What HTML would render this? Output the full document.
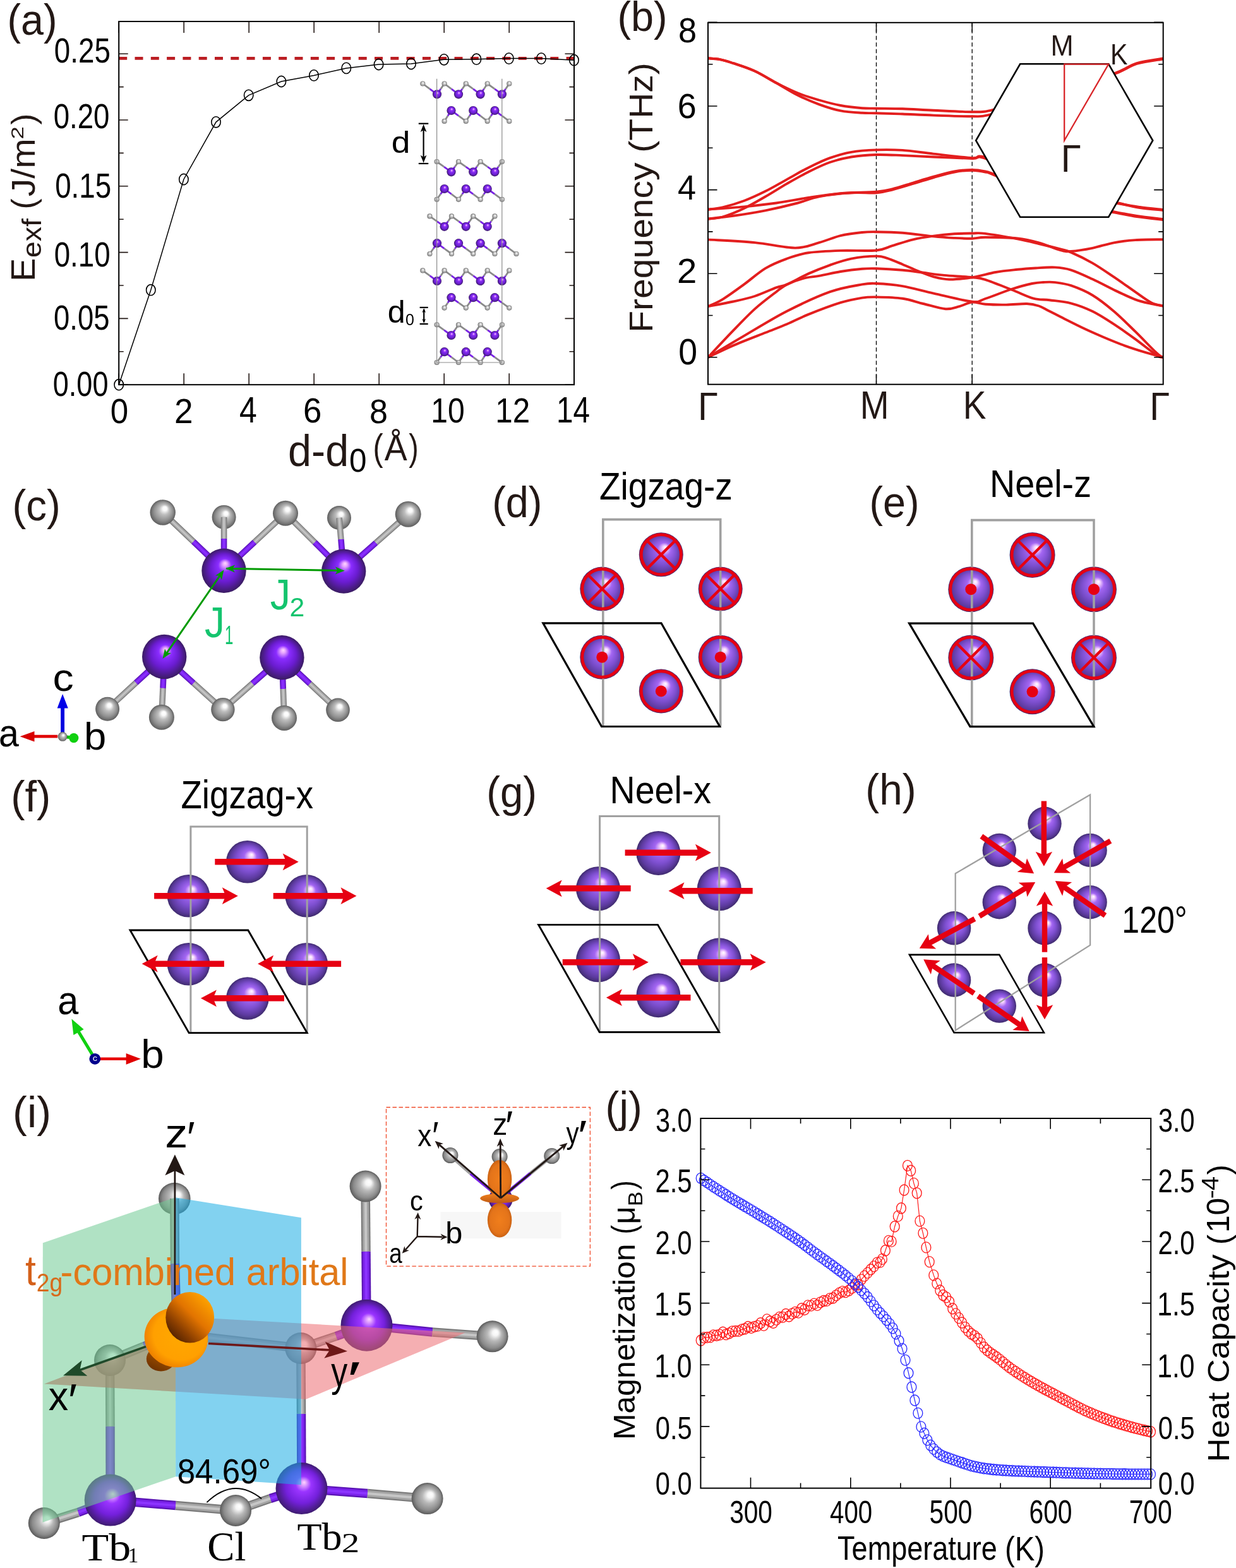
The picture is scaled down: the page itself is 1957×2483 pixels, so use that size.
<!DOCTYPE html>
<html><head><meta charset="utf-8"><title>Figure</title>
<style>html,body{margin:0;padding:0;background:#fff;}svg{display:block;}</style>
</head><body>
<svg xmlns="http://www.w3.org/2000/svg" width="1957" height="2483" viewBox="0 0 1957 2483">
<defs>
<radialGradient id="gTb" cx="0.5" cy="0.5" r="0.5" fx="0.56" fy="0.32">
  <stop offset="0" stop-color="#ffd8ff"/>
  <stop offset="0.12" stop-color="#d890ff"/>
  <stop offset="0.32" stop-color="#8a2cf6"/>
  <stop offset="0.7" stop-color="#6a1fd0"/>
  <stop offset="1" stop-color="#3c1c66"/>
</radialGradient>
<radialGradient id="gCl" cx="0.5" cy="0.5" r="0.5" fx="0.58" fy="0.33">
  <stop offset="0" stop-color="#ffffff"/>
  <stop offset="0.15" stop-color="#f4f4f4"/>
  <stop offset="0.45" stop-color="#c4c4c4"/>
  <stop offset="0.8" stop-color="#9a9a9a"/>
  <stop offset="1" stop-color="#6a6a6a"/>
</radialGradient>
<radialGradient id="gTb2" cx="0.5" cy="0.5" r="0.5" fx="0.62" fy="0.36">
  <stop offset="0" stop-color="#fff0ff"/>
  <stop offset="0.1" stop-color="#f0c8ff"/>
  <stop offset="0.3" stop-color="#a070f0"/>
  <stop offset="0.65" stop-color="#7848c8"/>
  <stop offset="1" stop-color="#3e2a6a"/>
</radialGradient>
<radialGradient id="gTbc" cx="0.5" cy="0.5" r="0.5" fx="0.53" fy="0.33">
  <stop offset="0" stop-color="#ffd6ff"/>
  <stop offset="0.1" stop-color="#e8a8ff"/>
  <stop offset="0.3" stop-color="#8a2cff"/>
  <stop offset="0.62" stop-color="#6a1cd0"/>
  <stop offset="1" stop-color="#3a1c62"/>
</radialGradient>
<radialGradient id="gClc" cx="0.5" cy="0.5" r="0.5" fx="0.6" fy="0.32">
  <stop offset="0" stop-color="#ffffff"/>
  <stop offset="0.16" stop-color="#fafafa"/>
  <stop offset="0.4" stop-color="#bdbdbd"/>
  <stop offset="0.75" stop-color="#8e8e8e"/>
  <stop offset="1" stop-color="#5e5e5e"/>
</radialGradient>
<radialGradient id="gTbs" cx="0.5" cy="0.5" r="0.5" fx="0.6" fy="0.33">
  <stop offset="0" stop-color="#ffffff"/>
  <stop offset="0.1" stop-color="#f4d0ff"/>
  <stop offset="0.3" stop-color="#a366f2"/>
  <stop offset="0.6" stop-color="#7d4fcf"/>
  <stop offset="0.85" stop-color="#5c3a9e"/>
  <stop offset="1" stop-color="#3f2b6e"/>
</radialGradient>
<radialGradient id="gTbi" cx="0.5" cy="0.5" r="0.5" fx="0.55" fy="0.38">
  <stop offset="0" stop-color="#ffd6ff"/>
  <stop offset="0.1" stop-color="#e0a0ff"/>
  <stop offset="0.3" stop-color="#9a34ff"/>
  <stop offset="0.65" stop-color="#7420dc"/>
  <stop offset="1" stop-color="#3e1c70"/>
</radialGradient>
<radialGradient id="gCli" cx="0.5" cy="0.5" r="0.5" fx="0.62" fy="0.36">
  <stop offset="0" stop-color="#ffffff"/>
  <stop offset="0.18" stop-color="#f6f6f6"/>
  <stop offset="0.45" stop-color="#b8b8b8"/>
  <stop offset="0.8" stop-color="#8a8a8a"/>
  <stop offset="1" stop-color="#5a5a5a"/>
</radialGradient>
<linearGradient id="gOrbT" x1="0.85" y1="0.1" x2="0.15" y2="0.85">
  <stop offset="0" stop-color="#ffa400"/>
  <stop offset="0.45" stop-color="#e27400"/>
  <stop offset="0.8" stop-color="#8a3e00"/>
  <stop offset="1" stop-color="#5a2600"/>
</linearGradient>
<radialGradient id="gOrbB" cx="0.55" cy="0.45" r="0.55">
  <stop offset="0" stop-color="#ffa800"/>
  <stop offset="0.75" stop-color="#ffa000"/>
  <stop offset="1" stop-color="#f08400"/>
</radialGradient>
<linearGradient id="gOrbD" x1="0.8" y1="0" x2="0.2" y2="1">
  <stop offset="0" stop-color="#c06000"/>
  <stop offset="1" stop-color="#6a3000"/>
</linearGradient>
<radialGradient id="gOrbI" cx="0.5" cy="0.5" r="0.55">
  <stop offset="0" stop-color="#f07e1c"/>
  <stop offset="0.7" stop-color="#e4741a"/>
  <stop offset="1" stop-color="#c05a10"/>
</radialGradient>
<linearGradient id="gOrbR" x1="0" y1="0" x2="0" y2="1">
  <stop offset="0" stop-color="#f08020"/>
  <stop offset="1" stop-color="#c05a12"/>
</linearGradient>
</defs>
<rect width="1957" height="2483" fill="#fff"/>
<g stroke-linecap="butt"><line x1="692.0" y1="149.3" x2="680.6" y2="140.9" stroke="#7a22e6" stroke-width="2.8"/><line x1="680.6" y1="140.9" x2="669.3" y2="132.5" stroke="#8a8a8a" stroke-width="2.8"/><line x1="692.0" y1="149.3" x2="697.8" y2="140.9" stroke="#7a22e6" stroke-width="2.8"/><line x1="697.8" y1="140.9" x2="703.6" y2="132.5" stroke="#8a8a8a" stroke-width="2.8"/><line x1="726.0" y1="149.3" x2="714.8" y2="140.9" stroke="#7a22e6" stroke-width="2.8"/><line x1="714.8" y1="140.9" x2="703.6" y2="132.5" stroke="#8a8a8a" stroke-width="2.8"/><line x1="726.0" y1="149.3" x2="731.9" y2="140.9" stroke="#7a22e6" stroke-width="2.8"/><line x1="731.9" y1="140.9" x2="737.7" y2="132.5" stroke="#8a8a8a" stroke-width="2.8"/><line x1="760.6" y1="149.3" x2="749.2" y2="140.9" stroke="#7a22e6" stroke-width="2.8"/><line x1="749.2" y1="140.9" x2="737.7" y2="132.5" stroke="#8a8a8a" stroke-width="2.8"/><line x1="760.6" y1="149.3" x2="766.2" y2="140.9" stroke="#7a22e6" stroke-width="2.8"/><line x1="766.2" y1="140.9" x2="771.7" y2="132.5" stroke="#8a8a8a" stroke-width="2.8"/><line x1="794.9" y1="149.3" x2="783.3" y2="140.9" stroke="#7a22e6" stroke-width="2.8"/><line x1="783.3" y1="140.9" x2="771.7" y2="132.5" stroke="#8a8a8a" stroke-width="2.8"/><line x1="794.9" y1="149.3" x2="800.6" y2="140.9" stroke="#7a22e6" stroke-width="2.8"/><line x1="800.6" y1="140.9" x2="806.3" y2="132.5" stroke="#8a8a8a" stroke-width="2.8"/><line x1="714.5" y1="175.0" x2="709.0" y2="183.4" stroke="#7a22e6" stroke-width="2.8"/><line x1="709.0" y1="183.4" x2="703.6" y2="191.9" stroke="#8a8a8a" stroke-width="2.8"/><line x1="714.5" y1="175.0" x2="726.1" y2="183.4" stroke="#7a22e6" stroke-width="2.8"/><line x1="726.1" y1="183.4" x2="737.7" y2="191.9" stroke="#8a8a8a" stroke-width="2.8"/><line x1="749.2" y1="175.0" x2="743.5" y2="183.4" stroke="#7a22e6" stroke-width="2.8"/><line x1="743.5" y1="183.4" x2="737.7" y2="191.9" stroke="#8a8a8a" stroke-width="2.8"/><line x1="749.2" y1="175.0" x2="760.5" y2="183.4" stroke="#7a22e6" stroke-width="2.8"/><line x1="760.5" y1="183.4" x2="771.7" y2="191.9" stroke="#8a8a8a" stroke-width="2.8"/><line x1="783.4" y1="175.0" x2="777.5" y2="183.4" stroke="#7a22e6" stroke-width="2.8"/><line x1="777.5" y1="183.4" x2="771.7" y2="191.9" stroke="#8a8a8a" stroke-width="2.8"/><line x1="783.4" y1="175.0" x2="794.8" y2="183.4" stroke="#7a22e6" stroke-width="2.8"/><line x1="794.8" y1="183.4" x2="806.3" y2="191.9" stroke="#8a8a8a" stroke-width="2.8"/><line x1="714.5" y1="272.3" x2="703.0" y2="264.1" stroke="#7a22e6" stroke-width="2.8"/><line x1="703.0" y1="264.1" x2="691.6" y2="256.0" stroke="#8a8a8a" stroke-width="2.8"/><line x1="714.5" y1="272.3" x2="720.2" y2="264.1" stroke="#7a22e6" stroke-width="2.8"/><line x1="720.2" y1="264.1" x2="726.0" y2="256.0" stroke="#8a8a8a" stroke-width="2.8"/><line x1="749.2" y1="272.3" x2="737.6" y2="264.1" stroke="#7a22e6" stroke-width="2.8"/><line x1="737.6" y1="264.1" x2="726.0" y2="256.0" stroke="#8a8a8a" stroke-width="2.8"/><line x1="749.2" y1="272.3" x2="754.9" y2="264.1" stroke="#7a22e6" stroke-width="2.8"/><line x1="754.9" y1="264.1" x2="760.6" y2="256.0" stroke="#8a8a8a" stroke-width="2.8"/><line x1="783.4" y1="272.3" x2="772.0" y2="264.1" stroke="#7a22e6" stroke-width="2.8"/><line x1="772.0" y1="264.1" x2="760.6" y2="256.0" stroke="#8a8a8a" stroke-width="2.8"/><line x1="783.4" y1="272.3" x2="789.1" y2="264.1" stroke="#7a22e6" stroke-width="2.8"/><line x1="789.1" y1="264.1" x2="794.9" y2="256.0" stroke="#8a8a8a" stroke-width="2.8"/><line x1="703.6" y1="299.0" x2="697.6" y2="307.4" stroke="#7a22e6" stroke-width="2.8"/><line x1="697.6" y1="307.4" x2="691.6" y2="315.8" stroke="#8a8a8a" stroke-width="2.8"/><line x1="703.6" y1="299.0" x2="714.8" y2="307.4" stroke="#7a22e6" stroke-width="2.8"/><line x1="714.8" y1="307.4" x2="726.0" y2="315.8" stroke="#8a8a8a" stroke-width="2.8"/><line x1="737.7" y1="299.0" x2="731.9" y2="307.4" stroke="#7a22e6" stroke-width="2.8"/><line x1="731.9" y1="307.4" x2="726.0" y2="315.8" stroke="#8a8a8a" stroke-width="2.8"/><line x1="737.7" y1="299.0" x2="749.2" y2="307.4" stroke="#7a22e6" stroke-width="2.8"/><line x1="749.2" y1="307.4" x2="760.6" y2="315.8" stroke="#8a8a8a" stroke-width="2.8"/><line x1="771.7" y1="299.0" x2="766.2" y2="307.4" stroke="#7a22e6" stroke-width="2.8"/><line x1="766.2" y1="307.4" x2="760.6" y2="315.8" stroke="#8a8a8a" stroke-width="2.8"/><line x1="771.7" y1="299.0" x2="783.3" y2="307.4" stroke="#7a22e6" stroke-width="2.8"/><line x1="783.3" y1="307.4" x2="794.9" y2="315.8" stroke="#8a8a8a" stroke-width="2.8"/><line x1="703.6" y1="358.8" x2="692.0" y2="350.6" stroke="#7a22e6" stroke-width="2.8"/><line x1="692.0" y1="350.6" x2="680.4" y2="342.4" stroke="#8a8a8a" stroke-width="2.8"/><line x1="703.6" y1="358.8" x2="709.3" y2="350.6" stroke="#7a22e6" stroke-width="2.8"/><line x1="709.3" y1="350.6" x2="715.0" y2="342.4" stroke="#8a8a8a" stroke-width="2.8"/><line x1="737.7" y1="358.8" x2="726.4" y2="350.6" stroke="#7a22e6" stroke-width="2.8"/><line x1="726.4" y1="350.6" x2="715.0" y2="342.4" stroke="#8a8a8a" stroke-width="2.8"/><line x1="737.7" y1="358.8" x2="743.5" y2="350.6" stroke="#7a22e6" stroke-width="2.8"/><line x1="743.5" y1="350.6" x2="749.2" y2="342.4" stroke="#8a8a8a" stroke-width="2.8"/><line x1="771.7" y1="358.8" x2="760.5" y2="350.6" stroke="#7a22e6" stroke-width="2.8"/><line x1="760.5" y1="350.6" x2="749.2" y2="342.4" stroke="#8a8a8a" stroke-width="2.8"/><line x1="771.7" y1="358.8" x2="777.5" y2="350.6" stroke="#7a22e6" stroke-width="2.8"/><line x1="777.5" y1="350.6" x2="783.4" y2="342.4" stroke="#8a8a8a" stroke-width="2.8"/><line x1="692.0" y1="385.2" x2="686.2" y2="393.6" stroke="#7a22e6" stroke-width="2.8"/><line x1="686.2" y1="393.6" x2="680.4" y2="402.0" stroke="#8a8a8a" stroke-width="2.8"/><line x1="692.0" y1="385.2" x2="703.5" y2="393.6" stroke="#7a22e6" stroke-width="2.8"/><line x1="703.5" y1="393.6" x2="715.0" y2="402.0" stroke="#8a8a8a" stroke-width="2.8"/><line x1="726.0" y1="385.2" x2="720.5" y2="393.6" stroke="#7a22e6" stroke-width="2.8"/><line x1="720.5" y1="393.6" x2="715.0" y2="402.0" stroke="#8a8a8a" stroke-width="2.8"/><line x1="726.0" y1="385.2" x2="737.6" y2="393.6" stroke="#7a22e6" stroke-width="2.8"/><line x1="737.6" y1="393.6" x2="749.2" y2="402.0" stroke="#8a8a8a" stroke-width="2.8"/><line x1="760.6" y1="385.2" x2="754.9" y2="393.6" stroke="#7a22e6" stroke-width="2.8"/><line x1="754.9" y1="393.6" x2="749.2" y2="402.0" stroke="#8a8a8a" stroke-width="2.8"/><line x1="760.6" y1="385.2" x2="772.0" y2="393.6" stroke="#7a22e6" stroke-width="2.8"/><line x1="772.0" y1="393.6" x2="783.4" y2="402.0" stroke="#8a8a8a" stroke-width="2.8"/><line x1="794.9" y1="385.2" x2="789.1" y2="393.6" stroke="#7a22e6" stroke-width="2.8"/><line x1="789.1" y1="393.6" x2="783.4" y2="402.0" stroke="#8a8a8a" stroke-width="2.8"/><line x1="794.9" y1="385.2" x2="806.2" y2="393.6" stroke="#7a22e6" stroke-width="2.8"/><line x1="806.2" y1="393.6" x2="817.5" y2="402.0" stroke="#8a8a8a" stroke-width="2.8"/><line x1="692.0" y1="445.0" x2="680.6" y2="436.7" stroke="#7a22e6" stroke-width="2.8"/><line x1="680.6" y1="436.7" x2="669.3" y2="428.4" stroke="#8a8a8a" stroke-width="2.8"/><line x1="692.0" y1="445.0" x2="697.8" y2="436.7" stroke="#7a22e6" stroke-width="2.8"/><line x1="697.8" y1="436.7" x2="703.6" y2="428.4" stroke="#8a8a8a" stroke-width="2.8"/><line x1="726.0" y1="445.0" x2="714.8" y2="436.7" stroke="#7a22e6" stroke-width="2.8"/><line x1="714.8" y1="436.7" x2="703.6" y2="428.4" stroke="#8a8a8a" stroke-width="2.8"/><line x1="726.0" y1="445.0" x2="731.9" y2="436.7" stroke="#7a22e6" stroke-width="2.8"/><line x1="731.9" y1="436.7" x2="737.7" y2="428.4" stroke="#8a8a8a" stroke-width="2.8"/><line x1="760.6" y1="445.0" x2="749.2" y2="436.7" stroke="#7a22e6" stroke-width="2.8"/><line x1="749.2" y1="436.7" x2="737.7" y2="428.4" stroke="#8a8a8a" stroke-width="2.8"/><line x1="760.6" y1="445.0" x2="766.2" y2="436.7" stroke="#7a22e6" stroke-width="2.8"/><line x1="766.2" y1="436.7" x2="771.7" y2="428.4" stroke="#8a8a8a" stroke-width="2.8"/><line x1="794.9" y1="445.0" x2="783.3" y2="436.7" stroke="#7a22e6" stroke-width="2.8"/><line x1="783.3" y1="436.7" x2="771.7" y2="428.4" stroke="#8a8a8a" stroke-width="2.8"/><line x1="794.9" y1="445.0" x2="800.6" y2="436.7" stroke="#7a22e6" stroke-width="2.8"/><line x1="800.6" y1="436.7" x2="806.3" y2="428.4" stroke="#8a8a8a" stroke-width="2.8"/><line x1="714.5" y1="471.2" x2="709.0" y2="479.4" stroke="#7a22e6" stroke-width="2.8"/><line x1="709.0" y1="479.4" x2="703.6" y2="487.6" stroke="#8a8a8a" stroke-width="2.8"/><line x1="714.5" y1="471.2" x2="726.1" y2="479.4" stroke="#7a22e6" stroke-width="2.8"/><line x1="726.1" y1="479.4" x2="737.7" y2="487.6" stroke="#8a8a8a" stroke-width="2.8"/><line x1="749.2" y1="471.2" x2="743.5" y2="479.4" stroke="#7a22e6" stroke-width="2.8"/><line x1="743.5" y1="479.4" x2="737.7" y2="487.6" stroke="#8a8a8a" stroke-width="2.8"/><line x1="749.2" y1="471.2" x2="760.5" y2="479.4" stroke="#7a22e6" stroke-width="2.8"/><line x1="760.5" y1="479.4" x2="771.7" y2="487.6" stroke="#8a8a8a" stroke-width="2.8"/><line x1="783.4" y1="471.2" x2="777.5" y2="479.4" stroke="#7a22e6" stroke-width="2.8"/><line x1="777.5" y1="479.4" x2="771.7" y2="487.6" stroke="#8a8a8a" stroke-width="2.8"/><line x1="783.4" y1="471.2" x2="794.8" y2="479.4" stroke="#7a22e6" stroke-width="2.8"/><line x1="794.8" y1="479.4" x2="806.3" y2="487.6" stroke="#8a8a8a" stroke-width="2.8"/><line x1="714.5" y1="531.0" x2="703.0" y2="522.6" stroke="#7a22e6" stroke-width="2.8"/><line x1="703.0" y1="522.6" x2="691.6" y2="514.3" stroke="#8a8a8a" stroke-width="2.8"/><line x1="714.5" y1="531.0" x2="720.2" y2="522.6" stroke="#7a22e6" stroke-width="2.8"/><line x1="720.2" y1="522.6" x2="726.0" y2="514.3" stroke="#8a8a8a" stroke-width="2.8"/><line x1="749.2" y1="531.0" x2="737.6" y2="522.6" stroke="#7a22e6" stroke-width="2.8"/><line x1="737.6" y1="522.6" x2="726.0" y2="514.3" stroke="#8a8a8a" stroke-width="2.8"/><line x1="749.2" y1="531.0" x2="754.9" y2="522.6" stroke="#7a22e6" stroke-width="2.8"/><line x1="754.9" y1="522.6" x2="760.6" y2="514.3" stroke="#8a8a8a" stroke-width="2.8"/><line x1="783.4" y1="531.0" x2="772.0" y2="522.6" stroke="#7a22e6" stroke-width="2.8"/><line x1="772.0" y1="522.6" x2="760.6" y2="514.3" stroke="#8a8a8a" stroke-width="2.8"/><line x1="783.4" y1="531.0" x2="789.1" y2="522.6" stroke="#7a22e6" stroke-width="2.8"/><line x1="789.1" y1="522.6" x2="794.9" y2="514.3" stroke="#8a8a8a" stroke-width="2.8"/><line x1="703.6" y1="557.2" x2="697.6" y2="565.6" stroke="#7a22e6" stroke-width="2.8"/><line x1="697.6" y1="565.6" x2="691.6" y2="574.0" stroke="#8a8a8a" stroke-width="2.8"/><line x1="703.6" y1="557.2" x2="714.8" y2="565.6" stroke="#7a22e6" stroke-width="2.8"/><line x1="714.8" y1="565.6" x2="726.0" y2="574.0" stroke="#8a8a8a" stroke-width="2.8"/><line x1="737.7" y1="557.2" x2="731.9" y2="565.6" stroke="#7a22e6" stroke-width="2.8"/><line x1="731.9" y1="565.6" x2="726.0" y2="574.0" stroke="#8a8a8a" stroke-width="2.8"/><line x1="737.7" y1="557.2" x2="749.2" y2="565.6" stroke="#7a22e6" stroke-width="2.8"/><line x1="749.2" y1="565.6" x2="760.6" y2="574.0" stroke="#8a8a8a" stroke-width="2.8"/><line x1="771.7" y1="557.2" x2="766.2" y2="565.6" stroke="#7a22e6" stroke-width="2.8"/><line x1="766.2" y1="565.6" x2="760.6" y2="574.0" stroke="#8a8a8a" stroke-width="2.8"/><line x1="771.7" y1="557.2" x2="783.3" y2="565.6" stroke="#7a22e6" stroke-width="2.8"/><line x1="783.3" y1="565.6" x2="794.9" y2="574.0" stroke="#8a8a8a" stroke-width="2.8"/></g>
<circle cx="669.3" cy="132.5" r="4.1" fill="url(#gCl)"/><circle cx="703.6" cy="132.5" r="4.1" fill="url(#gCl)"/><circle cx="737.7" cy="132.5" r="4.1" fill="url(#gCl)"/><circle cx="771.7" cy="132.5" r="4.1" fill="url(#gCl)"/><circle cx="806.3" cy="132.5" r="4.1" fill="url(#gCl)"/><circle cx="692.0" cy="149.3" r="7.1" fill="url(#gTb)"/><circle cx="726.0" cy="149.3" r="7.1" fill="url(#gTb)"/><circle cx="760.6" cy="149.3" r="7.1" fill="url(#gTb)"/><circle cx="794.9" cy="149.3" r="7.1" fill="url(#gTb)"/><circle cx="703.6" cy="191.9" r="4.1" fill="url(#gCl)"/><circle cx="737.7" cy="191.9" r="4.1" fill="url(#gCl)"/><circle cx="771.7" cy="191.9" r="4.1" fill="url(#gCl)"/><circle cx="806.3" cy="191.9" r="4.1" fill="url(#gCl)"/><circle cx="714.5" cy="175.0" r="7.1" fill="url(#gTb)"/><circle cx="749.2" cy="175.0" r="7.1" fill="url(#gTb)"/><circle cx="783.4" cy="175.0" r="7.1" fill="url(#gTb)"/><circle cx="691.6" cy="256.0" r="4.1" fill="url(#gCl)"/><circle cx="726.0" cy="256.0" r="4.1" fill="url(#gCl)"/><circle cx="760.6" cy="256.0" r="4.1" fill="url(#gCl)"/><circle cx="794.9" cy="256.0" r="4.1" fill="url(#gCl)"/><circle cx="714.5" cy="272.3" r="7.1" fill="url(#gTb)"/><circle cx="749.2" cy="272.3" r="7.1" fill="url(#gTb)"/><circle cx="783.4" cy="272.3" r="7.1" fill="url(#gTb)"/><circle cx="691.6" cy="315.8" r="4.1" fill="url(#gCl)"/><circle cx="726.0" cy="315.8" r="4.1" fill="url(#gCl)"/><circle cx="760.6" cy="315.8" r="4.1" fill="url(#gCl)"/><circle cx="794.9" cy="315.8" r="4.1" fill="url(#gCl)"/><circle cx="703.6" cy="299.0" r="7.1" fill="url(#gTb)"/><circle cx="737.7" cy="299.0" r="7.1" fill="url(#gTb)"/><circle cx="771.7" cy="299.0" r="7.1" fill="url(#gTb)"/><circle cx="680.4" cy="342.4" r="4.1" fill="url(#gCl)"/><circle cx="715.0" cy="342.4" r="4.1" fill="url(#gCl)"/><circle cx="749.2" cy="342.4" r="4.1" fill="url(#gCl)"/><circle cx="783.4" cy="342.4" r="4.1" fill="url(#gCl)"/><circle cx="703.6" cy="358.8" r="7.1" fill="url(#gTb)"/><circle cx="737.7" cy="358.8" r="7.1" fill="url(#gTb)"/><circle cx="771.7" cy="358.8" r="7.1" fill="url(#gTb)"/><circle cx="680.4" cy="402.0" r="4.1" fill="url(#gCl)"/><circle cx="715.0" cy="402.0" r="4.1" fill="url(#gCl)"/><circle cx="749.2" cy="402.0" r="4.1" fill="url(#gCl)"/><circle cx="783.4" cy="402.0" r="4.1" fill="url(#gCl)"/><circle cx="817.5" cy="402.0" r="4.1" fill="url(#gCl)"/><circle cx="692.0" cy="385.2" r="7.1" fill="url(#gTb)"/><circle cx="726.0" cy="385.2" r="7.1" fill="url(#gTb)"/><circle cx="760.6" cy="385.2" r="7.1" fill="url(#gTb)"/><circle cx="794.9" cy="385.2" r="7.1" fill="url(#gTb)"/><circle cx="669.3" cy="428.4" r="4.1" fill="url(#gCl)"/><circle cx="703.6" cy="428.4" r="4.1" fill="url(#gCl)"/><circle cx="737.7" cy="428.4" r="4.1" fill="url(#gCl)"/><circle cx="771.7" cy="428.4" r="4.1" fill="url(#gCl)"/><circle cx="806.3" cy="428.4" r="4.1" fill="url(#gCl)"/><circle cx="692.0" cy="445.0" r="7.1" fill="url(#gTb)"/><circle cx="726.0" cy="445.0" r="7.1" fill="url(#gTb)"/><circle cx="760.6" cy="445.0" r="7.1" fill="url(#gTb)"/><circle cx="794.9" cy="445.0" r="7.1" fill="url(#gTb)"/><circle cx="703.6" cy="487.6" r="4.1" fill="url(#gCl)"/><circle cx="737.7" cy="487.6" r="4.1" fill="url(#gCl)"/><circle cx="771.7" cy="487.6" r="4.1" fill="url(#gCl)"/><circle cx="806.3" cy="487.6" r="4.1" fill="url(#gCl)"/><circle cx="714.5" cy="471.2" r="7.1" fill="url(#gTb)"/><circle cx="749.2" cy="471.2" r="7.1" fill="url(#gTb)"/><circle cx="783.4" cy="471.2" r="7.1" fill="url(#gTb)"/><circle cx="691.6" cy="514.3" r="4.1" fill="url(#gCl)"/><circle cx="726.0" cy="514.3" r="4.1" fill="url(#gCl)"/><circle cx="760.6" cy="514.3" r="4.1" fill="url(#gCl)"/><circle cx="794.9" cy="514.3" r="4.1" fill="url(#gCl)"/><circle cx="714.5" cy="531.0" r="7.1" fill="url(#gTb)"/><circle cx="749.2" cy="531.0" r="7.1" fill="url(#gTb)"/><circle cx="783.4" cy="531.0" r="7.1" fill="url(#gTb)"/><circle cx="691.6" cy="574.0" r="4.1" fill="url(#gCl)"/><circle cx="726.0" cy="574.0" r="4.1" fill="url(#gCl)"/><circle cx="760.6" cy="574.0" r="4.1" fill="url(#gCl)"/><circle cx="794.9" cy="574.0" r="4.1" fill="url(#gCl)"/><circle cx="703.6" cy="557.2" r="7.1" fill="url(#gTb)"/><circle cx="737.7" cy="557.2" r="7.1" fill="url(#gTb)"/><circle cx="771.7" cy="557.2" r="7.1" fill="url(#gTb)"/>
<g stroke="#8c8c8c" stroke-width="1.2" fill="none"><line x1="691.6" y1="124.8" x2="691.6" y2="574"/><line x1="794.8" y1="124.8" x2="794.8" y2="574"/><line x1="691.6" y1="574" x2="794.8" y2="574"/></g>
<g stroke="#000" stroke-width="2.2" fill="none"><line x1="662.8" y1="195.7" x2="678.3" y2="195.7"/><line x1="662.8" y1="259" x2="678.3" y2="259"/><line x1="670.6" y1="200" x2="670.6" y2="254"/><line x1="664.6" y1="486.9" x2="677.7" y2="486.9"/><line x1="664.6" y1="513" x2="677.7" y2="513"/><line x1="671.2" y1="490" x2="671.2" y2="510"/></g>
<g fill="#000"><path d="M670.6,196.8 L665.8,209 L670.6,206 L675.4,209 Z"/><path d="M670.6,257.9 L665.8,245.7 L670.6,248.7 L675.4,245.7 Z"/><path d="M671.2,488 L668.4,495 L671.2,493.5 L674,495 Z"/><path d="M671.2,511.9 L668.4,504.9 L671.2,506.4 L674,504.9 Z"/></g>
<text transform="translate(619.73,241.51) scale(1.0889,1)" font-family='"Liberation Sans", Arial, sans-serif' font-size="48.98" fill="#000">d</text>
<text transform="translate(613.87,510.80) scale(1.0086,1)" font-family='"Liberation Sans", Arial, sans-serif' font-size="49.80" fill="#000">d</text>
<text transform="translate(641.90,514.55) scale(0.9906,1)" font-family='"Liberation Sans", Arial, sans-serif' font-size="25.16" fill="#000">0</text>
<line x1="188.2" y1="92.4" x2="909.0" y2="92.4" stroke="#bb1d22" stroke-width="4.6" stroke-dasharray="13 12.3"/>
<polyline fill="none" stroke="#000" stroke-width="1.5" points="188.2,609.2 238.8,459.2 290.9,284.0 342.0,193.3 393.7,150.8 445.4,129.0 497.0,119.4 548.3,107.9 599.6,102.0 651.0,101.0 703.0,94.3 754.4,93.7 805.8,92.6 857.0,92.6 908.9,95.2"/>
<g fill="none" stroke="#000" stroke-width="1.6"><ellipse cx="188.2" cy="609.2" rx="7.2" ry="8.6"/><ellipse cx="238.8" cy="459.2" rx="7.2" ry="8.6"/><ellipse cx="290.9" cy="284.0" rx="7.2" ry="8.6"/><ellipse cx="342.0" cy="193.3" rx="7.2" ry="8.6"/><ellipse cx="393.7" cy="150.8" rx="7.2" ry="8.6"/><ellipse cx="445.4" cy="129.0" rx="7.2" ry="8.6"/><ellipse cx="497.0" cy="119.4" rx="7.2" ry="8.6"/><ellipse cx="548.3" cy="107.9" rx="7.2" ry="8.6"/><ellipse cx="599.6" cy="102.0" rx="7.2" ry="8.6"/><ellipse cx="651.0" cy="101.0" rx="7.2" ry="8.6"/><ellipse cx="703.0" cy="94.3" rx="7.2" ry="8.6"/><ellipse cx="754.4" cy="93.7" rx="7.2" ry="8.6"/><ellipse cx="805.8" cy="92.6" rx="7.2" ry="8.6"/><ellipse cx="857.0" cy="92.6" rx="7.2" ry="8.6"/><ellipse cx="908.9" cy="95.2" rx="7.2" ry="8.6"/></g>
<path d="M188.2,609.2v-18M188.2,34.0v18M291.2,609.2v-18M291.2,34.0v18M394.2,609.2v-18M394.2,34.0v18M497.2,609.2v-18M497.2,34.0v18M600.2,609.2v-18M600.2,34.0v18M703.2,609.2v-18M703.2,34.0v18M806.2,609.2v-18M806.2,34.0v18M909.2,609.2v-18M909.2,34.0v18M188.2,609.2h14.5M909.0,609.2h-14.5M188.2,556.8h7.5M909.0,556.8h-7.5M188.2,504.4h14.5M909.0,504.4h-14.5M188.2,452.0h7.5M909.0,452.0h-7.5M188.2,399.6h14.5M909.0,399.6h-14.5M188.2,347.2h7.5M909.0,347.2h-7.5M188.2,294.8h14.5M909.0,294.8h-14.5M188.2,242.4h7.5M909.0,242.4h-7.5M188.2,190.0h14.5M909.0,190.0h-14.5M188.2,137.6h7.5M909.0,137.6h-7.5M188.2,85.2h14.5M909.0,85.2h-14.5" stroke="#231815" stroke-width="1.6" fill="none"/>
<rect x="188.2" y="34.0" width="720.8" height="575.2" fill="none" stroke="#000" stroke-width="2"/>
<text transform="translate(85.87,99.14) scale(0.8213,1)" font-family='"Liberation Sans", Arial, sans-serif' font-size="55.69" fill="#000">0.25</text>
<text transform="translate(84.68,203.14) scale(0.8192,1)" font-family='"Liberation Sans", Arial, sans-serif' font-size="55.69" fill="#000">0.20</text>
<text transform="translate(87.17,312.94) scale(0.8213,1)" font-family='"Liberation Sans", Arial, sans-serif' font-size="55.69" fill="#000">0.15</text>
<text transform="translate(85.67,421.75) scale(0.8244,1)" font-family='"Liberation Sans", Arial, sans-serif' font-size="55.41" fill="#000">0.10</text>
<text transform="translate(85.08,522.05) scale(0.8197,1)" font-family='"Liberation Sans", Arial, sans-serif' font-size="55.41" fill="#000">0.05</text>
<text transform="translate(83.80,627.35) scale(0.8128,1)" font-family='"Liberation Sans", Arial, sans-serif' font-size="55.41" fill="#000">0.00</text>
<text transform="translate(174.66,670.14) scale(0.9130,1)" font-family='"Liberation Sans", Arial, sans-serif' font-size="55.97" fill="#000">0</text>
<text transform="translate(275.94,670.10) scale(0.9512,1)" font-family='"Liberation Sans", Arial, sans-serif' font-size="55.91" fill="#000">2</text>
<text transform="translate(379.08,668.90) scale(0.8819,1)" font-family='"Liberation Sans", Arial, sans-serif' font-size="56.58" fill="#000">4</text>
<text transform="translate(479.96,668.84) scale(0.9473,1)" font-family='"Liberation Sans", Arial, sans-serif' font-size="55.69" fill="#000">6</text>
<text transform="translate(584.98,670.16) scale(0.9680,1)" font-family='"Liberation Sans", Arial, sans-serif' font-size="53.85" fill="#000">8</text>
<text transform="translate(682.30,668.55) scale(0.8756,1)" font-family='"Liberation Sans", Arial, sans-serif' font-size="54.84" fill="#000">10</text>
<text transform="translate(784.30,669.10) scale(0.8870,1)" font-family='"Liberation Sans", Arial, sans-serif' font-size="55.63" fill="#000">12</text>
<text transform="translate(881.03,669.10) scale(0.8424,1)" font-family='"Liberation Sans", Arial, sans-serif' font-size="56.44" fill="#000">14</text>
<text transform="translate(11.45,55.04) scale(0.9550,1)" font-family='"Liberation Sans", Arial, sans-serif' font-size="67.77" fill="#231815">(a)</text>
<g transform="translate(55,441.2) rotate(-90)"><text transform="translate(-4.59,0.00) scale(1.0428,1)" font-family='"Liberation Sans", Arial, sans-serif' font-size="53.38" fill="#231815">E</text><text transform="translate(33.22,10.18) scale(1.1167,1)" font-family='"Liberation Sans", Arial, sans-serif' font-size="41.64" fill="#231815">exf</text><text transform="translate(110.06,0.15) scale(0.9690,1)" font-family='"Liberation Sans", Arial, sans-serif' font-size="51.80" fill="#231815">(</text><text transform="translate(130.04,0.08) scale(1.1036,1)" font-family='"Liberation Sans", Arial, sans-serif' font-size="51.70" fill="#231815">J/m</text><text transform="translate(220.78,-18.10) scale(1.3185,1)" font-family='"Liberation Sans", Arial, sans-serif' font-size="27.67" fill="#231815">2</text><text transform="translate(243.80,0.15) scale(1.0272,1)" font-family='"Liberation Sans", Arial, sans-serif' font-size="51.80" fill="#231815">)</text></g>
<text transform="translate(455.97,737.99) scale(0.9355,1)" font-family='"Liberation Sans", Arial, sans-serif' font-size="71.16" fill="#231815">d-d</text>
<text transform="translate(553.02,746.89) scale(0.9606,1)" font-family='"Liberation Sans", Arial, sans-serif' font-size="51.45" fill="#000">0</text>
<text transform="translate(590.38,729.05) scale(0.8116,1)" font-family='"Liberation Sans", Arial, sans-serif' font-size="59.52" fill="#231815">(</text>
<text transform="translate(608.77,728.60) scale(0.9545,1)" font-family='"Liberation Sans", Arial, sans-serif' font-size="56.46" fill="#231815">Å</text>
<text transform="translate(647.35,729.05) scale(0.7799,1)" font-family='"Liberation Sans", Arial, sans-serif' font-size="59.52" fill="#231815">)</text>
<clipPath id="clipb"><rect x="1121.0" y="35.8" width="720.7" height="572.9000000000001"/></clipPath>
<g stroke="#000" stroke-width="1.3"><line x1="1387.5" y1="35.8" x2="1387.5" y2="608.7" stroke-dasharray="6.4 4.1"/><line x1="1539.2" y1="35.8" x2="1539.2" y2="608.7" stroke-dasharray="6.4 4.1"/></g>
<path d="M1387.5,35.8v15M1539.2,35.8v15M1387.5,608.7v-16M1539.2,608.7v-16" stroke="#000" stroke-width="1.5"/>
<g clip-path="url(#clipb)" fill="none" stroke="#e31e1e" stroke-width="3.9" stroke-linejoin="round" stroke-linecap="round">
<path d="M1121.0,92.3 C1124.3,92.6 1134.3,93.0 1141.0,94.3 C1147.7,95.6 1152.0,97.2 1161.0,100.2 C1170.0,103.2 1183.7,107.4 1195.0,112.6 C1206.3,117.8 1217.7,125.5 1229.0,131.3 C1240.3,137.1 1251.7,142.9 1263.0,147.4 C1274.3,151.9 1285.7,155.2 1297.0,158.5 C1308.3,161.8 1319.7,164.9 1331.0,167.0 C1342.3,169.1 1355.6,170.4 1365.0,171.2 C1374.4,172.0 1376.9,171.5 1387.6,171.7 C1398.3,171.9 1413.9,171.8 1429.0,172.3 C1444.1,172.8 1459.6,174.0 1478.0,174.8 C1496.4,175.6 1524.2,177.2 1539.3,177.2 C1554.4,177.2 1555.0,177.7 1568.5,174.8 C1582.0,171.9 1598.1,166.6 1620.0,160.0 C1641.9,153.4 1675.8,142.3 1700.0,135.0 C1724.2,127.7 1748.2,121.8 1764.9,116.0 C1781.6,110.2 1787.2,103.9 1800.0,100.0 C1812.8,96.1 1834.8,93.8 1841.7,92.5"/>
<path d="M1121.0,92.3 C1124.3,92.6 1134.3,93.0 1141.0,94.3 C1147.7,95.6 1152.0,97.2 1161.0,100.2 C1170.0,103.2 1183.7,107.4 1195.0,112.6 C1206.3,117.8 1217.7,124.9 1229.0,131.3 C1240.3,137.7 1251.7,145.1 1263.0,150.8 C1274.3,156.5 1285.7,161.2 1297.0,165.3 C1308.3,169.4 1319.7,173.2 1331.0,175.4 C1342.3,177.7 1355.6,178.2 1365.0,178.8 C1374.4,179.4 1376.9,178.9 1387.6,179.2 C1398.3,179.5 1413.9,179.9 1429.0,180.5 C1444.1,181.1 1459.6,182.0 1478.0,182.6 C1496.4,183.2 1524.8,184.4 1539.3,184.3 C1553.8,184.2 1551.5,185.3 1565.0,182.1 C1578.5,178.9 1597.5,172.5 1620.0,165.0 C1642.5,157.5 1675.8,145.0 1700.0,137.0 C1724.2,129.0 1748.2,123.0 1764.9,117.0 C1781.6,111.0 1787.2,104.9 1800.0,101.0 C1812.8,97.1 1834.8,94.8 1841.7,93.5"/>
<path d="M1121.0,331.6 C1124.8,331.1 1134.5,330.6 1144.0,328.3 C1153.5,326.0 1166.7,322.2 1178.0,318.0 C1189.3,313.8 1200.7,308.4 1212.0,302.8 C1223.3,297.2 1234.7,290.3 1246.0,284.1 C1257.3,277.9 1268.7,271.0 1280.0,265.4 C1291.3,259.8 1302.7,254.3 1314.0,250.2 C1325.3,246.1 1335.7,242.9 1348.0,240.8 C1360.3,238.7 1374.1,237.9 1387.6,237.4 C1401.1,236.9 1413.9,236.9 1429.0,237.9 C1444.1,238.9 1459.6,241.6 1478.0,243.6 C1496.4,245.6 1525.8,249.4 1539.3,250.2 C1552.8,251.0 1541.9,245.2 1558.7,248.5 C1575.5,251.8 1613.1,260.6 1640.0,270.0 C1666.9,279.4 1698.5,296.5 1720.0,305.0 C1741.5,313.5 1754.8,317.2 1769.0,321.0 C1783.2,324.8 1792.9,326.2 1805.0,328.0 C1817.1,329.8 1835.6,331.3 1841.7,332.0"/>
<path d="M1121.0,346.6 C1124.8,346.1 1134.5,346.3 1144.0,343.5 C1153.5,340.7 1166.7,335.4 1178.0,330.0 C1189.3,324.6 1200.7,317.8 1212.0,311.3 C1223.3,304.8 1234.7,297.4 1246.0,290.9 C1257.3,284.4 1268.7,277.8 1280.0,272.2 C1291.3,266.6 1302.7,260.9 1314.0,257.0 C1325.3,253.1 1335.7,250.5 1348.0,248.5 C1360.3,246.5 1374.1,245.4 1387.6,245.0 C1401.1,244.6 1413.9,245.5 1429.0,246.1 C1444.1,246.7 1459.6,247.7 1478.0,248.5 C1496.4,249.3 1525.6,250.6 1539.3,251.0 C1553.0,251.4 1543.2,245.3 1560.0,251.0 C1576.8,256.7 1613.3,272.7 1640.0,285.0 C1666.7,297.3 1699.7,316.7 1720.0,325.0 C1740.3,333.3 1748.7,332.0 1762.0,334.8 C1775.3,337.6 1786.7,339.9 1800.0,342.0 C1813.3,344.1 1834.8,346.3 1841.7,347.2"/>
<path d="M1121.0,331.6 C1130.5,330.9 1160.0,329.1 1178.0,327.4 C1196.0,325.7 1212.0,323.9 1229.0,321.5 C1246.0,319.1 1263.0,315.6 1280.0,313.0 C1297.0,310.4 1313.1,307.8 1331.0,306.2 C1348.9,304.6 1374.0,304.8 1387.6,303.6 C1401.2,302.5 1403.1,301.7 1412.8,299.3 C1422.5,296.9 1434.7,292.8 1445.6,289.5 C1456.5,286.2 1467.5,282.7 1478.4,279.7 C1489.3,276.7 1500.9,273.3 1511.1,271.5 C1521.2,269.7 1531.1,269.0 1539.3,269.0 C1547.5,269.0 1554.6,270.4 1560.3,271.5 C1566.0,272.6 1558.5,270.9 1573.4,275.6 C1588.4,280.4 1623.9,292.9 1650.0,300.0 C1676.1,307.1 1710.2,314.3 1730.0,318.0 C1749.8,321.7 1756.5,320.2 1769.0,322.0 C1781.5,323.8 1792.9,327.2 1805.0,329.0 C1817.1,330.8 1835.6,332.3 1841.7,333.0"/>
<path d="M1121.0,346.6 C1127.7,345.8 1145.8,344.0 1161.0,341.8 C1176.2,339.6 1195.0,336.7 1212.0,333.3 C1229.0,329.9 1248.8,325.2 1263.0,321.5 C1277.2,317.8 1282.8,314.0 1297.0,311.3 C1311.2,308.6 1332.9,306.3 1348.0,305.3 C1363.1,304.3 1376.8,306.1 1387.6,305.3 C1398.4,304.5 1403.1,302.9 1412.8,300.5 C1422.5,298.1 1434.7,294.2 1445.6,291.0 C1456.5,287.8 1467.5,284.1 1478.4,281.0 C1489.3,277.9 1500.9,274.4 1511.1,272.5 C1521.2,270.6 1531.1,269.8 1539.3,269.8 C1547.5,269.8 1554.6,271.3 1560.3,272.5 C1566.0,273.7 1558.5,270.8 1573.4,277.0 C1588.4,283.2 1623.9,300.8 1650.0,310.0 C1676.1,319.2 1711.3,327.7 1730.0,332.0 C1748.7,336.3 1750.3,334.2 1762.0,336.0 C1773.7,337.8 1786.7,341.0 1800.0,343.0 C1813.3,345.0 1834.8,347.2 1841.7,348.0"/>
<path d="M1121.0,379.4 C1133.3,380.2 1172.0,381.9 1195.0,384.1 C1218.0,386.3 1242.0,392.6 1259.0,392.6 C1276.0,392.6 1285.0,387.4 1297.0,384.1 C1309.0,380.9 1319.7,375.8 1331.0,373.1 C1342.3,370.4 1355.6,369.0 1365.0,368.0 C1374.4,367.0 1376.9,367.1 1387.6,367.2 C1398.3,367.3 1414.1,367.5 1429.2,368.7 C1444.3,369.9 1464.8,373.0 1478.4,374.4 C1492.1,375.8 1500.9,376.3 1511.1,376.9 C1521.2,377.4 1531.1,377.9 1539.3,377.7 C1547.5,377.5 1548.0,375.8 1560.0,375.8 C1572.0,375.8 1596.8,376.1 1611.0,377.5 C1625.2,378.9 1633.6,381.2 1644.9,384.3 C1656.2,387.4 1670.3,393.9 1678.8,396.2 C1687.3,398.5 1687.3,398.5 1695.8,397.9 C1704.3,397.3 1718.5,395.1 1729.8,392.8 C1741.1,390.5 1752.4,386.4 1763.7,384.3 C1775.0,382.2 1784.7,381.0 1797.7,380.1 C1810.7,379.2 1834.5,379.4 1841.8,379.2"/>
<path d="M1121.0,485.2 C1124.8,483.4 1134.5,479.9 1144.0,474.1 C1153.5,468.3 1166.7,458.6 1178.0,450.4 C1189.3,442.2 1200.7,431.7 1212.0,424.9 C1223.3,418.1 1234.7,413.7 1246.0,409.6 C1257.3,405.5 1265.8,402.4 1280.0,400.3 C1294.2,398.2 1313.1,397.5 1331.0,396.9 C1348.9,396.3 1374.0,397.8 1387.6,396.5 C1401.2,395.2 1403.1,392.1 1412.8,389.2 C1422.5,386.3 1434.7,381.9 1445.6,379.3 C1456.5,376.7 1467.5,375.1 1478.4,373.6 C1489.3,372.1 1500.9,371.0 1511.1,370.3 C1521.2,369.6 1531.1,369.6 1539.3,369.5 C1547.5,369.4 1548.0,368.4 1560.0,369.9 C1572.0,371.4 1596.8,375.7 1611.0,378.4 C1625.2,381.1 1633.6,383.3 1644.9,386.0 C1656.2,388.7 1670.3,392.2 1678.8,394.5 C1687.3,396.8 1687.3,395.9 1695.8,399.6 C1704.3,403.3 1718.5,410.1 1729.8,416.6 C1741.1,423.1 1752.4,431.1 1763.7,438.7 C1775.0,446.3 1787.8,455.6 1797.7,462.4 C1807.6,469.2 1815.9,475.7 1823.2,479.4 C1830.5,483.1 1838.7,483.6 1841.8,484.5"/>
<path d="M1121.0,485.2 C1127.7,483.9 1148.7,480.2 1161.0,477.5 C1173.3,474.8 1183.7,472.7 1195.0,469.0 C1206.3,465.3 1220.5,458.5 1229.0,455.4 C1237.5,452.3 1237.5,454.1 1246.0,450.4 C1254.5,446.7 1268.7,438.5 1280.0,433.4 C1291.3,428.3 1302.7,423.8 1314.0,419.8 C1325.3,415.8 1335.7,412.0 1348.0,409.6 C1360.3,407.2 1378.2,405.7 1387.6,405.6 C1397.0,405.5 1397.7,406.7 1404.6,408.9 C1411.5,411.1 1421.0,415.3 1429.2,418.7 C1437.4,422.1 1445.6,426.0 1453.8,429.3 C1462.0,432.6 1470.2,436.2 1478.4,438.4 C1486.6,440.6 1492.8,442.4 1503.0,442.5 C1513.2,442.6 1527.0,441.1 1539.3,439.2 C1551.6,437.3 1564.8,433.1 1576.7,431.0 C1588.7,428.9 1600.5,427.9 1611.0,426.8 C1621.5,425.7 1630.1,425.1 1640.0,424.5 C1649.9,423.9 1661.1,422.9 1670.4,423.4 C1679.7,423.9 1685.9,424.5 1695.8,427.6 C1705.7,430.7 1718.5,436.9 1729.8,442.1 C1741.1,447.3 1752.4,453.6 1763.7,459.0 C1775.0,464.4 1787.8,470.6 1797.7,474.3 C1807.6,478.0 1815.9,479.4 1823.2,481.1 C1830.5,482.8 1838.7,483.9 1841.8,484.5"/>
<path d="M1121.0,565.8 C1127.7,558.7 1148.7,536.1 1161.0,523.4 C1173.3,510.7 1183.7,499.6 1195.0,489.4 C1206.3,479.2 1220.5,468.7 1229.0,462.2 C1237.5,455.7 1239.0,453.9 1246.0,450.4 C1253.0,446.9 1262.5,443.3 1271.0,441.0 C1279.5,438.7 1287.0,438.6 1297.0,436.8 C1307.0,435.0 1319.7,431.9 1331.0,430.0 C1342.3,428.1 1355.6,426.5 1365.0,425.7 C1374.4,424.9 1376.9,424.9 1387.6,425.2 C1398.3,425.5 1416.8,426.6 1429.2,427.7 C1441.6,428.8 1451.1,430.4 1462.0,431.8 C1472.9,433.2 1481.9,434.7 1494.8,435.9 C1507.7,437.1 1528.4,438.0 1539.3,439.2 C1550.2,440.4 1549.5,439.6 1560.0,442.9 C1570.5,446.2 1589.7,454.1 1602.4,459.0 C1615.1,463.9 1626.5,469.9 1636.4,472.6 C1646.3,475.3 1652.0,473.9 1661.9,475.2 C1671.8,476.5 1684.5,477.3 1695.8,480.3 C1707.1,483.3 1718.5,487.5 1729.8,493.0 C1741.1,498.5 1752.4,506.0 1763.7,513.4 C1775.0,520.8 1786.4,528.9 1797.7,537.1 C1809.0,545.3 1824.2,557.8 1831.6,562.6 C1838.9,567.4 1840.1,565.3 1841.8,565.8"/>
<path d="M1121.0,565.8 C1130.5,560.1 1157.2,544.1 1178.0,531.9 C1198.8,519.7 1223.3,504.4 1246.0,492.8 C1268.7,481.2 1294.2,469.3 1314.0,462.2 C1333.8,455.1 1352.7,452.6 1365.0,450.4 C1377.3,448.2 1376.9,448.6 1387.6,449.0 C1398.3,449.4 1414.1,450.5 1429.2,453.1 C1444.3,455.7 1460.1,460.5 1478.4,464.6 C1496.8,468.7 1525.7,476.3 1539.3,477.7 C1552.9,479.1 1549.7,476.3 1560.0,473.0 C1570.3,469.7 1589.0,462.0 1601.3,458.0 C1613.6,454.0 1625.6,450.8 1634.1,449.0 C1642.5,447.2 1646.0,447.3 1652.0,447.0 C1658.0,446.7 1663.1,446.2 1670.4,447.1 C1677.7,448.0 1685.9,448.8 1695.8,452.2 C1705.7,455.6 1718.5,460.7 1729.8,467.5 C1741.1,474.3 1752.4,483.4 1763.7,493.0 C1775.0,502.6 1786.4,514.2 1797.7,525.2 C1809.0,536.2 1824.2,552.4 1831.6,559.2 C1838.9,566.0 1840.1,564.7 1841.8,565.8"/>
<path d="M1121.0,565.8 C1127.7,562.7 1145.8,553.6 1161.0,547.1 C1176.2,540.6 1197.8,532.4 1212.0,526.8 C1226.2,521.1 1234.7,518.0 1246.0,513.2 C1257.3,508.4 1265.8,503.6 1280.0,497.9 C1294.2,492.2 1316.8,483.6 1331.0,479.2 C1345.2,474.8 1355.6,473.1 1365.0,471.6 C1374.4,470.1 1376.9,470.2 1387.6,470.4 C1398.3,470.6 1416.8,471.0 1429.2,472.8 C1441.6,474.6 1450.7,478.3 1462.0,481.0 C1473.3,483.7 1487.7,488.5 1497.2,489.2 C1506.8,489.9 1512.3,486.9 1519.3,485.1 C1526.3,483.3 1532.5,479.1 1539.3,478.5 C1546.1,477.9 1551.3,481.1 1560.3,481.8 C1569.3,482.5 1582.2,482.7 1593.1,482.6 C1604.0,482.5 1617.3,480.7 1625.9,481.0 C1634.5,481.3 1639.2,482.7 1644.9,484.5 C1650.6,486.3 1654.3,489.2 1660.0,492.0 C1665.7,494.8 1670.0,497.1 1678.8,501.5 C1687.6,505.9 1701.5,513.1 1712.8,518.5 C1724.1,523.9 1735.5,528.9 1746.8,533.7 C1758.1,538.5 1769.4,543.2 1780.7,547.3 C1792.0,551.4 1804.5,555.3 1814.7,558.4 C1824.9,561.5 1837.3,564.6 1841.8,565.8"/>
</g>
<polygon points="1825.2,222.5 1755.2,101.3 1615.2,101.3 1545.2,222.5 1615.2,343.7 1755.2,343.7" fill="#fff" stroke="#000" stroke-width="2.6" stroke-linejoin="miter"/>
<path d="M1685.2,101.7 L1755.2,101.7 L1685.2,222.5 Z" fill="none" stroke="#d9262a" stroke-width="2.3" stroke-linejoin="miter"/>
<path d="M1121.0,565.8h14.5M1841.7,565.8h-14.5M1121.0,499.5h7.5M1841.7,499.5h-7.5M1121.0,433.2h14.5M1841.7,433.2h-14.5M1121.0,366.9h7.5M1841.7,366.9h-7.5M1121.0,300.6h14.5M1841.7,300.6h-14.5M1121.0,234.3h7.5M1841.7,234.3h-7.5M1121.0,168.0h14.5M1841.7,168.0h-14.5M1121.0,101.7h7.5M1841.7,101.7h-7.5M1121.0,35.4h14.5M1841.7,35.4h-14.5" stroke="#000" stroke-width="1.6" fill="none"/>
<rect x="1121.0" y="35.8" width="720.7" height="572.9000000000001" fill="none" stroke="#000" stroke-width="2"/>
<text transform="translate(1073.88,66.85) scale(0.9447,1)" font-family='"Liberation Sans", Arial, sans-serif' font-size="55.41" fill="#000">8</text>
<text transform="translate(1072.81,187.14) scale(0.9619,1)" font-family='"Liberation Sans", Arial, sans-serif' font-size="55.97" fill="#000">6</text>
<text transform="translate(1072.92,315.80) scale(0.9335,1)" font-family='"Liberation Sans", Arial, sans-serif' font-size="56.00" fill="#000">4</text>
<text transform="translate(1072.09,448.20) scale(1.0063,1)" font-family='"Liberation Sans", Arial, sans-serif' font-size="55.91" fill="#000">2</text>
<text transform="translate(1074.36,576.73) scale(0.9459,1)" font-family='"Liberation Sans", Arial, sans-serif' font-size="56.68" fill="#000">0</text>
<text transform="translate(977.45,49.27) scale(0.9642,1)" font-family='"Liberation Sans", Arial, sans-serif' font-size="67.13" fill="#231815">(b)</text>
<text transform="translate(1104.92,665.30) scale(0.9244,1)" font-family='"Liberation Sans", Arial, sans-serif' font-size="62.69" fill="#231815">Γ</text>
<text transform="translate(1361.86,663.40) scale(0.8770,1)" font-family='"Liberation Sans", Arial, sans-serif' font-size="62.69" fill="#231815">M</text>
<text transform="translate(1524.66,663.10) scale(0.8716,1)" font-family='"Liberation Sans", Arial, sans-serif' font-size="63.13" fill="#231815">K</text>
<text transform="translate(1820.22,665.20) scale(0.9202,1)" font-family='"Liberation Sans", Arial, sans-serif' font-size="62.98" fill="#231815">Γ</text>
<text transform="translate(1663.42,87.50) scale(0.9482,1)" font-family='"Liberation Sans", Arial, sans-serif' font-size="45.82" fill="#231815">M</text>
<text transform="translate(1758.00,101.50) scale(0.8997,1)" font-family='"Liberation Sans", Arial, sans-serif' font-size="45.82" fill="#231815">K</text>
<text transform="translate(1679.80,271.80) scale(0.9479,1)" font-family='"Liberation Sans", Arial, sans-serif' font-size="61.38" fill="#231815">Γ</text>
<text transform="translate(1033.11,526.70) rotate(-90) scale(1.1164,1)" font-family='"Liberation Sans", Arial, sans-serif' font-size="51.05" fill="#231815">Frequency (THz)</text>
<circle cx="354.6" cy="818.9" r="19.0" fill="url(#gClc)"/>
<circle cx="537.0" cy="820.0" r="19.0" fill="url(#gClc)"/>
<line x1="354.5" y1="903.7" x2="306.1" y2="857.6" stroke="#5b16b8" stroke-width="9.6"/><line x1="354.5" y1="903.7" x2="306.1" y2="857.6" stroke="#7a20ec" stroke-width="6.9"/><line x1="354.5" y1="903.7" x2="306.1" y2="857.6" stroke="#8a30ff" stroke-width="2.9"/><line x1="306.1" y1="857.6" x2="257.7" y2="811.5" stroke="#7c7c7c" stroke-width="9.6"/><line x1="306.1" y1="857.6" x2="257.7" y2="811.5" stroke="#a6a6a6" stroke-width="6.9"/><line x1="306.1" y1="857.6" x2="257.7" y2="811.5" stroke="#c4c4c4" stroke-width="2.9"/>
<line x1="354.5" y1="903.7" x2="354.6" y2="852.8" stroke="#5b16b8" stroke-width="9.6"/><line x1="354.5" y1="903.7" x2="354.6" y2="852.8" stroke="#7a20ec" stroke-width="6.9"/><line x1="354.5" y1="903.7" x2="354.6" y2="852.8" stroke="#8a30ff" stroke-width="2.9"/><line x1="354.6" y1="852.8" x2="354.6" y2="818.9" stroke="#7c7c7c" stroke-width="9.6"/><line x1="354.6" y1="852.8" x2="354.6" y2="818.9" stroke="#a6a6a6" stroke-width="6.9"/><line x1="354.6" y1="852.8" x2="354.6" y2="818.9" stroke="#c4c4c4" stroke-width="2.9"/>
<line x1="354.5" y1="903.7" x2="403.2" y2="858.2" stroke="#5b16b8" stroke-width="9.6"/><line x1="354.5" y1="903.7" x2="403.2" y2="858.2" stroke="#7a20ec" stroke-width="6.9"/><line x1="354.5" y1="903.7" x2="403.2" y2="858.2" stroke="#8a30ff" stroke-width="2.9"/><line x1="403.2" y1="858.2" x2="452.0" y2="812.8" stroke="#7c7c7c" stroke-width="9.6"/><line x1="403.2" y1="858.2" x2="452.0" y2="812.8" stroke="#a6a6a6" stroke-width="6.9"/><line x1="403.2" y1="858.2" x2="452.0" y2="812.8" stroke="#c4c4c4" stroke-width="2.9"/>
<line x1="544.2" y1="904.6" x2="498.1" y2="858.7" stroke="#5b16b8" stroke-width="9.6"/><line x1="544.2" y1="904.6" x2="498.1" y2="858.7" stroke="#7a20ec" stroke-width="6.9"/><line x1="544.2" y1="904.6" x2="498.1" y2="858.7" stroke="#8a30ff" stroke-width="2.9"/><line x1="498.1" y1="858.7" x2="452.0" y2="812.8" stroke="#7c7c7c" stroke-width="9.6"/><line x1="498.1" y1="858.7" x2="452.0" y2="812.8" stroke="#a6a6a6" stroke-width="6.9"/><line x1="498.1" y1="858.7" x2="452.0" y2="812.8" stroke="#c4c4c4" stroke-width="2.9"/>
<line x1="544.2" y1="904.6" x2="539.9" y2="853.8" stroke="#5b16b8" stroke-width="9.6"/><line x1="544.2" y1="904.6" x2="539.9" y2="853.8" stroke="#7a20ec" stroke-width="6.9"/><line x1="544.2" y1="904.6" x2="539.9" y2="853.8" stroke="#8a30ff" stroke-width="2.9"/><line x1="539.9" y1="853.8" x2="537.0" y2="820.0" stroke="#7c7c7c" stroke-width="9.6"/><line x1="539.9" y1="853.8" x2="537.0" y2="820.0" stroke="#a6a6a6" stroke-width="6.9"/><line x1="539.9" y1="853.8" x2="537.0" y2="820.0" stroke="#c4c4c4" stroke-width="2.9"/>
<line x1="544.2" y1="904.6" x2="595.2" y2="859.5" stroke="#5b16b8" stroke-width="9.6"/><line x1="544.2" y1="904.6" x2="595.2" y2="859.5" stroke="#7a20ec" stroke-width="6.9"/><line x1="544.2" y1="904.6" x2="595.2" y2="859.5" stroke="#8a30ff" stroke-width="2.9"/><line x1="595.2" y1="859.5" x2="646.2" y2="814.3" stroke="#7c7c7c" stroke-width="9.6"/><line x1="595.2" y1="859.5" x2="646.2" y2="814.3" stroke="#a6a6a6" stroke-width="6.9"/><line x1="595.2" y1="859.5" x2="646.2" y2="814.3" stroke="#c4c4c4" stroke-width="2.9"/>
<line x1="260.2" y1="1040.0" x2="215.1" y2="1081.3" stroke="#5b16b8" stroke-width="9.6"/><line x1="260.2" y1="1040.0" x2="215.1" y2="1081.3" stroke="#7a20ec" stroke-width="6.9"/><line x1="260.2" y1="1040.0" x2="215.1" y2="1081.3" stroke="#8a30ff" stroke-width="2.9"/><line x1="215.1" y1="1081.3" x2="170.1" y2="1122.7" stroke="#7c7c7c" stroke-width="9.6"/><line x1="215.1" y1="1081.3" x2="170.1" y2="1122.7" stroke="#a6a6a6" stroke-width="6.9"/><line x1="215.1" y1="1081.3" x2="170.1" y2="1122.7" stroke="#c4c4c4" stroke-width="2.9"/>
<line x1="260.2" y1="1040.0" x2="258.0" y2="1089.8" stroke="#5b16b8" stroke-width="9.6"/><line x1="260.2" y1="1040.0" x2="258.0" y2="1089.8" stroke="#7a20ec" stroke-width="6.9"/><line x1="260.2" y1="1040.0" x2="258.0" y2="1089.8" stroke="#8a30ff" stroke-width="2.9"/><line x1="258.0" y1="1089.8" x2="255.9" y2="1135.8" stroke="#7c7c7c" stroke-width="9.6"/><line x1="258.0" y1="1089.8" x2="255.9" y2="1135.8" stroke="#a6a6a6" stroke-width="6.9"/><line x1="258.0" y1="1089.8" x2="255.9" y2="1135.8" stroke="#c4c4c4" stroke-width="2.9"/>
<line x1="260.2" y1="1040.0" x2="306.5" y2="1081.8" stroke="#5b16b8" stroke-width="9.6"/><line x1="260.2" y1="1040.0" x2="306.5" y2="1081.8" stroke="#7a20ec" stroke-width="6.9"/><line x1="260.2" y1="1040.0" x2="306.5" y2="1081.8" stroke="#8a30ff" stroke-width="2.9"/><line x1="306.5" y1="1081.8" x2="352.9" y2="1123.6" stroke="#7c7c7c" stroke-width="9.6"/><line x1="306.5" y1="1081.8" x2="352.9" y2="1123.6" stroke="#a6a6a6" stroke-width="6.9"/><line x1="306.5" y1="1081.8" x2="352.9" y2="1123.6" stroke="#c4c4c4" stroke-width="2.9"/>
<line x1="446.4" y1="1041.3" x2="399.6" y2="1082.4" stroke="#5b16b8" stroke-width="9.6"/><line x1="446.4" y1="1041.3" x2="399.6" y2="1082.4" stroke="#7a20ec" stroke-width="6.9"/><line x1="446.4" y1="1041.3" x2="399.6" y2="1082.4" stroke="#8a30ff" stroke-width="2.9"/><line x1="399.6" y1="1082.4" x2="352.9" y2="1123.6" stroke="#7c7c7c" stroke-width="9.6"/><line x1="399.6" y1="1082.4" x2="352.9" y2="1123.6" stroke="#a6a6a6" stroke-width="6.9"/><line x1="399.6" y1="1082.4" x2="352.9" y2="1123.6" stroke="#c4c4c4" stroke-width="2.9"/>
<line x1="446.4" y1="1041.3" x2="448.3" y2="1091.0" stroke="#5b16b8" stroke-width="9.6"/><line x1="446.4" y1="1041.3" x2="448.3" y2="1091.0" stroke="#7a20ec" stroke-width="6.9"/><line x1="446.4" y1="1041.3" x2="448.3" y2="1091.0" stroke="#8a30ff" stroke-width="2.9"/><line x1="448.3" y1="1091.0" x2="450.0" y2="1136.9" stroke="#7c7c7c" stroke-width="9.6"/><line x1="448.3" y1="1091.0" x2="450.0" y2="1136.9" stroke="#a6a6a6" stroke-width="6.9"/><line x1="448.3" y1="1091.0" x2="450.0" y2="1136.9" stroke="#c4c4c4" stroke-width="2.9"/>
<line x1="446.4" y1="1041.3" x2="490.7" y2="1082.8" stroke="#5b16b8" stroke-width="9.6"/><line x1="446.4" y1="1041.3" x2="490.7" y2="1082.8" stroke="#7a20ec" stroke-width="6.9"/><line x1="446.4" y1="1041.3" x2="490.7" y2="1082.8" stroke="#8a30ff" stroke-width="2.9"/><line x1="490.7" y1="1082.8" x2="535.0" y2="1124.3" stroke="#7c7c7c" stroke-width="9.6"/><line x1="490.7" y1="1082.8" x2="535.0" y2="1124.3" stroke="#a6a6a6" stroke-width="6.9"/><line x1="490.7" y1="1082.8" x2="535.0" y2="1124.3" stroke="#c4c4c4" stroke-width="2.9"/>
<circle cx="257.7" cy="811.5" r="20.2" fill="url(#gClc)"/>
<circle cx="452.0" cy="812.8" r="20.0" fill="url(#gClc)"/>
<circle cx="646.2" cy="814.3" r="20.5" fill="url(#gClc)"/>
<circle cx="170.1" cy="1122.7" r="19.0" fill="url(#gClc)"/>
<circle cx="255.9" cy="1135.8" r="20.0" fill="url(#gClc)"/>
<circle cx="352.9" cy="1123.6" r="18.7" fill="url(#gClc)"/>
<circle cx="450.0" cy="1136.9" r="20.0" fill="url(#gClc)"/>
<circle cx="535.0" cy="1124.3" r="18.8" fill="url(#gClc)"/>
<circle cx="354.5" cy="903.7" r="35.2" fill="url(#gTbc)"/>
<circle cx="544.2" cy="904.6" r="35.2" fill="url(#gTbc)"/>
<circle cx="260.2" cy="1040.0" r="35.2" fill="url(#gTbc)"/>
<circle cx="446.4" cy="1041.3" r="35.2" fill="url(#gTbc)"/>
<line x1="358.5" y1="900.3" x2="540" y2="903.6" stroke="#009a00" stroke-width="3"/>
<path d="M357.0,900.3 L372.1,894.6 L368.2,900.5 L371.9,906.6 Z" fill="#009a00"/>
<path d="M545.8,903.8 L530.7,909.5 L534.6,903.6 L530.9,897.5 Z" fill="#009a00"/>
<line x1="352" y1="906" x2="260" y2="1040" stroke="#009a00" stroke-width="3"/>
<path d="M354.5,902.5 L350.9,918.3 L348.1,911.8 L341.0,911.4 Z" fill="#009a00"/>
<path d="M257.5,1043.0 L261.1,1027.2 L263.9,1033.7 L271.0,1034.1 Z" fill="#009a00"/>
<text transform="translate(427.83,964.91) scale(0.9396,1)" font-family='"Liberation Sans", Arial, sans-serif' font-size="68.53" fill="#14c46e">J</text>
<text transform="translate(458.56,976.00) scale(1.0202,1)" font-family='"Liberation Sans", Arial, sans-serif' font-size="42.01" fill="#14c46e">2</text>
<text transform="translate(324.04,1009.41) scale(0.9209,1)" font-family='"Liberation Sans", Arial, sans-serif' font-size="69.39" fill="#14c46e">J</text>
<text transform="translate(356.00,1019.90) scale(0.5760,1)" font-family='"Liberation Sans", Arial, sans-serif' font-size="41.75" fill="#14c46e">1</text>
<text transform="translate(19.41,824.11) scale(0.9637,1)" font-family='"Liberation Sans", Arial, sans-serif' font-size="67.88" fill="#231815">(c)</text>
<line x1="91.2" y1="1166.2" x2="54" y2="1166.2" stroke="#e00000" stroke-width="4.7"/>
<path d="M31.6,1166.2 L54.5,1158 L54.5,1174.4 Z" fill="#d80000"/>
<line x1="99.1" y1="1160" x2="99.1" y2="1120" stroke="#0000e0" stroke-width="5.9"/>
<path d="M99.1,1099 L90.6,1121.5 L107.8,1121.5 Z" fill="#0000e8"/>
<line x1="100" y1="1166.5" x2="110" y2="1167.5" stroke="#00c000" stroke-width="5"/>
<circle cx="116.8" cy="1168.6" r="7.6" fill="#10d010"/>
<circle cx="99.1" cy="1166.4" r="7.4" fill="url(#gClc)"/>
<text transform="translate(83.58,1093.69) scale(1.0897,1)" font-family='"Liberation Sans", Arial, sans-serif' font-size="60.82" fill="#000">c</text>
<text transform="translate(-1.93,1181.58) scale(0.9306,1)" font-family='"Liberation Sans", Arial, sans-serif' font-size="61.55" fill="#000">a</text>
<text transform="translate(132.88,1187.38) scale(1.0276,1)" font-family='"Liberation Sans", Arial, sans-serif' font-size="61.63" fill="#000">b</text>
<circle cx="1046.8" cy="878.3" r="35.0" fill="url(#gTbs)"/>
<circle cx="953.3" cy="932.6" r="35.0" fill="url(#gTbs)"/>
<circle cx="1140.7" cy="932.6" r="35.0" fill="url(#gTbs)"/>
<circle cx="953.3" cy="1040.7" r="35.0" fill="url(#gTbs)"/>
<circle cx="1140.7" cy="1040.7" r="35.0" fill="url(#gTbs)"/>
<circle cx="1046.8" cy="1094.5" r="35.0" fill="url(#gTbs)"/>
<path d="M954.8,1150.0V822.6H1140.7V1150.0" fill="none" stroke="#a0a0a0" stroke-width="3.6"/>
<polygon points="859.9,986.8 1047,986.8 1139.6,1150.5 952.5,1150.5" fill="none" stroke="#000" stroke-width="3.2" stroke-linejoin="miter"/>
<circle cx="1046.8" cy="878.3" r="31.6" fill="none" stroke="#e60012" stroke-width="4.8"/><path d="M1024.4,856.0L1069.1,900.6M1069.1,856.0L1024.4,900.6" stroke="#e60012" stroke-width="4.4"/>
<circle cx="953.3" cy="932.6" r="31.6" fill="none" stroke="#e60012" stroke-width="4.8"/><path d="M931.0,910.3L975.6,954.9M975.6,910.3L931.0,954.9" stroke="#e60012" stroke-width="4.4"/>
<circle cx="1140.7" cy="932.6" r="31.6" fill="none" stroke="#e60012" stroke-width="4.8"/><path d="M1118.4,910.3L1163.0,954.9M1163.0,910.3L1118.4,954.9" stroke="#e60012" stroke-width="4.4"/>
<circle cx="953.3" cy="1040.7" r="31.6" fill="none" stroke="#e60012" stroke-width="4.8"/><circle cx="953.3" cy="1040.7" r="9" fill="#e60012"/>
<circle cx="1140.7" cy="1040.7" r="31.6" fill="none" stroke="#e60012" stroke-width="4.8"/><circle cx="1140.7" cy="1040.7" r="9" fill="#e60012"/>
<circle cx="1046.8" cy="1094.5" r="31.6" fill="none" stroke="#e60012" stroke-width="4.8"/><circle cx="1046.8" cy="1094.5" r="9" fill="#e60012"/>
<text transform="translate(949.01,790.55) scale(0.8947,1)" font-family='"Liberation Sans", Arial, sans-serif' font-size="61.45" fill="#000">Zigzag-z</text>
<text transform="translate(779.14,819.04) scale(0.9577,1)" font-family='"Liberation Sans", Arial, sans-serif' font-size="67.77" fill="#231815">(d)</text>
<circle cx="1634.6" cy="878.9" r="36.0" fill="url(#gTbs)"/>
<circle cx="1537.3" cy="933.2" r="36.0" fill="url(#gTbs)"/>
<circle cx="1732.0" cy="933.2" r="36.0" fill="url(#gTbs)"/>
<circle cx="1537.3" cy="1041.4" r="36.0" fill="url(#gTbs)"/>
<circle cx="1732.0" cy="1041.4" r="36.0" fill="url(#gTbs)"/>
<circle cx="1634.6" cy="1095.3" r="36.0" fill="url(#gTbs)"/>
<path d="M1538.8,1150.6V823.6H1732.0V1150.6" fill="none" stroke="#a0a0a0" stroke-width="3.6"/>
<polygon points="1439.6,987.1 1635.6,987.1 1731.9,1150.6 1536.0,1150.6" fill="none" stroke="#000" stroke-width="3.2" stroke-linejoin="miter"/>
<circle cx="1634.6" cy="878.9" r="32.6" fill="none" stroke="#e60012" stroke-width="4.8"/><path d="M1611.5,855.8L1657.7,902.0M1657.7,855.8L1611.5,902.0" stroke="#e60012" stroke-width="4.4"/>
<circle cx="1537.3" cy="933.2" r="32.6" fill="none" stroke="#e60012" stroke-width="4.8"/><circle cx="1537.3" cy="933.2" r="9" fill="#e60012"/>
<circle cx="1732.0" cy="933.2" r="32.6" fill="none" stroke="#e60012" stroke-width="4.8"/><circle cx="1732.0" cy="933.2" r="9" fill="#e60012"/>
<circle cx="1537.3" cy="1041.4" r="32.6" fill="none" stroke="#e60012" stroke-width="4.8"/><path d="M1514.2,1018.3L1560.4,1064.5M1560.4,1018.3L1514.2,1064.5" stroke="#e60012" stroke-width="4.4"/>
<circle cx="1732.0" cy="1041.4" r="32.6" fill="none" stroke="#e60012" stroke-width="4.8"/><path d="M1708.9,1018.3L1755.1,1064.5M1755.1,1018.3L1708.9,1064.5" stroke="#e60012" stroke-width="4.4"/>
<circle cx="1634.6" cy="1095.3" r="32.6" fill="none" stroke="#e60012" stroke-width="4.8"/><circle cx="1634.6" cy="1095.3" r="9" fill="#e60012"/>
<text transform="translate(1567.00,787.39) scale(0.9145,1)" font-family='"Liberation Sans", Arial, sans-serif' font-size="60.95" fill="#000">Neel-z</text>
<text transform="translate(1376.45,819.11) scale(0.9535,1)" font-family='"Liberation Sans", Arial, sans-serif' font-size="67.88" fill="#231815">(e)</text>
<circle cx="391.8" cy="1364.8" r="33.8" fill="url(#gTbs)"/>
<circle cx="298.5" cy="1418.7" r="33.8" fill="url(#gTbs)"/>
<circle cx="485.3" cy="1418.7" r="33.8" fill="url(#gTbs)"/>
<circle cx="298.5" cy="1526.8" r="33.8" fill="url(#gTbs)"/>
<circle cx="485.3" cy="1526.8" r="33.8" fill="url(#gTbs)"/>
<circle cx="391.8" cy="1581.0" r="33.8" fill="url(#gTbs)"/>
<path d="M301.9,1634.5V1309.1H486.2V1634.5" fill="none" stroke="#a0a0a0" stroke-width="3.0"/>
<polygon points="206,1473 392.8,1473 486.2,1635.6 299.2,1635.6" fill="none" stroke="#000" stroke-width="2.9" stroke-linejoin="miter"/>
<line x1="340.3" y1="1364.8" x2="455.2" y2="1364.8" stroke="#e60012" stroke-width="9.6"/><path d="M472.7,1364.8L447.7,1378.2L453.2,1364.8L447.7,1351.4Z" fill="#e60012"/>
<line x1="244.1" y1="1418.7" x2="359.3" y2="1418.7" stroke="#e60012" stroke-width="9.6"/><path d="M376.8,1418.7L351.8,1432.1L357.3,1418.7L351.8,1405.3Z" fill="#e60012"/>
<line x1="432.7" y1="1418.7" x2="547.0" y2="1418.7" stroke="#e60012" stroke-width="9.6"/><path d="M564.5,1418.7L539.5,1432.1L545.0,1418.7L539.5,1405.3Z" fill="#e60012"/>
<line x1="354.9" y1="1526.2" x2="242.2" y2="1526.2" stroke="#e60012" stroke-width="9.6"/><path d="M224.7,1526.2L249.7,1512.8L244.2,1526.2L249.7,1539.6Z" fill="#e60012"/>
<line x1="540.1" y1="1526.2" x2="425.6" y2="1526.2" stroke="#e60012" stroke-width="9.6"/><path d="M408.1,1526.2L433.1,1512.8L427.6,1526.2L433.1,1539.6Z" fill="#e60012"/>
<line x1="449.9" y1="1580.8" x2="335.4" y2="1580.8" stroke="#e60012" stroke-width="9.6"/><path d="M317.9,1580.8L342.9,1567.4L337.4,1580.8L342.9,1594.2Z" fill="#e60012"/>
<text transform="translate(286.42,1279.72) scale(0.8809,1)" font-family='"Liberation Sans", Arial, sans-serif' font-size="62.09" fill="#000">Zigzag-x</text>
<text transform="translate(17.22,1284.94) scale(0.9860,1)" font-family='"Liberation Sans", Arial, sans-serif' font-size="67.77" fill="#231815">(f)</text>
<line x1="150.3" y1="1676.8" x2="124.5" y2="1634" stroke="#10d010" stroke-width="5"/>
<path d="M113.4,1613.4 L116.4,1639 L132.6,1630 Z" fill="#10d010"/>
<line x1="150.3" y1="1676.8" x2="200" y2="1676.8" stroke="#e80000" stroke-width="4.5"/>
<path d="M222.9,1676.8 L199.6,1667.9 L199.6,1685.7 Z" fill="#e00000"/>
<circle cx="150.3" cy="1676.8" r="8.9" fill="#00008c"/>
<text transform="translate(146.69,1680.46) scale(1.0668,1)" font-family='"Liberation Sans", Arial, sans-serif' font-size="13.52" fill="#fff">c</text>
<text transform="translate(91.37,1606.07) scale(0.9429,1)" font-family='"Liberation Sans", Arial, sans-serif' font-size="63.01" fill="#000">a</text>
<text transform="translate(223.14,1691.17) scale(1.0429,1)" font-family='"Liberation Sans", Arial, sans-serif' font-size="62.86" fill="#000">b</text>
<circle cx="1042.4" cy="1350.9" r="35.0" fill="url(#gTbs)"/>
<circle cx="947.0" cy="1407.3" r="35.0" fill="url(#gTbs)"/>
<circle cx="1138.8" cy="1407.3" r="35.0" fill="url(#gTbs)"/>
<circle cx="947.0" cy="1520.3" r="35.0" fill="url(#gTbs)"/>
<circle cx="1138.8" cy="1520.3" r="35.0" fill="url(#gTbs)"/>
<circle cx="1042.4" cy="1576.2" r="35.0" fill="url(#gTbs)"/>
<path d="M949.6,1633.3V1292.6H1138.7V1633.3" fill="none" stroke="#a0a0a0" stroke-width="3.0"/>
<polygon points="852.6,1464.4 1041.4,1464.4 1138.7,1634.5 949.2,1634.5" fill="none" stroke="#000" stroke-width="2.9" stroke-linejoin="miter"/>
<line x1="989.6" y1="1350.2" x2="1108.4" y2="1350.2" stroke="#e60012" stroke-width="9.6"/><path d="M1125.9,1350.2L1100.9,1363.6L1106.4,1350.2L1100.9,1336.8Z" fill="#e60012"/>
<line x1="998.7" y1="1406.8" x2="882.2" y2="1406.8" stroke="#e60012" stroke-width="9.6"/><path d="M864.7,1406.8L889.7,1393.4L884.2,1406.8L889.7,1420.2Z" fill="#e60012"/>
<line x1="1191.7" y1="1410.7" x2="1076.0" y2="1410.7" stroke="#e60012" stroke-width="9.6"/><path d="M1058.5,1410.7L1083.5,1397.3L1078.0,1410.7L1083.5,1424.1Z" fill="#e60012"/>
<line x1="890.7" y1="1523.7" x2="1009.3" y2="1523.7" stroke="#e60012" stroke-width="9.6"/><path d="M1026.8,1523.7L1001.8,1537.1L1007.3,1523.7L1001.8,1510.3Z" fill="#e60012"/>
<line x1="1077.5" y1="1523.7" x2="1195.2" y2="1523.7" stroke="#e60012" stroke-width="9.6"/><path d="M1212.7,1523.7L1187.7,1537.1L1193.2,1523.7L1187.7,1510.3Z" fill="#e60012"/>
<line x1="1093.5" y1="1579.7" x2="977.4" y2="1579.7" stroke="#e60012" stroke-width="9.6"/><path d="M959.9,1579.7L984.9,1566.3L979.4,1579.7L984.9,1593.1Z" fill="#e60012"/>
<text transform="translate(965.62,1271.89) scale(0.9055,1)" font-family='"Liberation Sans", Arial, sans-serif' font-size="61.36" fill="#000">Neel-x</text>
<text transform="translate(770.22,1278.11) scale(0.9616,1)" font-family='"Liberation Sans", Arial, sans-serif' font-size="67.88" fill="#231815">(g)</text>
<circle cx="1654.0" cy="1304.3" r="26.7" fill="url(#gTbs)"/>
<circle cx="1582.3" cy="1346.4" r="26.7" fill="url(#gTbs)"/>
<circle cx="1726.1" cy="1346.4" r="26.7" fill="url(#gTbs)"/>
<circle cx="1582.3" cy="1428.7" r="26.7" fill="url(#gTbs)"/>
<circle cx="1726.1" cy="1428.7" r="26.7" fill="url(#gTbs)"/>
<circle cx="1510.6" cy="1469.8" r="26.7" fill="url(#gTbs)"/>
<circle cx="1654.0" cy="1469.8" r="26.7" fill="url(#gTbs)"/>
<circle cx="1510.6" cy="1552.0" r="26.7" fill="url(#gTbs)"/>
<circle cx="1654.0" cy="1552.0" r="26.7" fill="url(#gTbs)"/>
<circle cx="1582.3" cy="1593.1" r="26.7" fill="url(#gTbs)"/>
<polygon points="1512.7,1383.3 1726.1,1258.5 1726.1,1496.7 1512.7,1631.6" fill="none" stroke="#a0a0a0" stroke-width="2.3"/>
<polygon points="1440,1511.9 1582.3,1511.9 1652.9,1635.2 1510.6,1635.2" fill="none" stroke="#000" stroke-width="2.6"/>
<line x1="1652.9" y1="1268.5" x2="1652.9" y2="1355.6" stroke="#e60012" stroke-width="8.4"/><path d="M1652.9,1371.7L1639.7,1348.7L1652.9,1353.8L1666.1,1348.7Z" fill="#e60012"/>
<line x1="1553.9" y1="1324.3" x2="1624.0" y2="1374.0" stroke="#e60012" stroke-width="8.4"/><path d="M1637.1,1383.3L1610.7,1380.8L1622.5,1372.9L1626.0,1359.2Z" fill="#e60012"/>
<line x1="1758.3" y1="1331.7" x2="1682.7" y2="1374.4" stroke="#e60012" stroke-width="8.4"/><path d="M1668.7,1382.3L1682.2,1359.5L1684.3,1373.5L1695.2,1382.5Z" fill="#e60012"/>
<line x1="1749.9" y1="1449.7" x2="1684.0" y2="1404.1" stroke="#e60012" stroke-width="8.4"/><path d="M1670.8,1394.9L1697.2,1397.1L1685.5,1405.1L1682.2,1418.8Z" fill="#e60012"/>
<line x1="1550.7" y1="1450.8" x2="1625.4" y2="1405.4" stroke="#e60012" stroke-width="8.4"/><path d="M1639.2,1397.0L1626.4,1420.2L1623.9,1406.3L1612.7,1397.7Z" fill="#e60012"/>
<line x1="1543.3" y1="1455.0" x2="1470.0" y2="1494.2" stroke="#e60012" stroke-width="8.4"/><path d="M1455.8,1501.8L1469.9,1479.3L1471.6,1493.3L1482.3,1502.6Z" fill="#e60012"/>
<line x1="1654.0" y1="1507.7" x2="1654.0" y2="1427.9" stroke="#e60012" stroke-width="8.4"/><path d="M1654.0,1411.8L1667.2,1434.8L1654.0,1429.7L1640.8,1434.8Z" fill="#e60012"/>
<line x1="1654.0" y1="1516.1" x2="1654.0" y2="1598.1" stroke="#e60012" stroke-width="8.4"/><path d="M1654.0,1614.2L1640.8,1591.2L1654.0,1596.3L1667.2,1591.2Z" fill="#e60012"/>
<line x1="1542.3" y1="1573.1" x2="1475.6" y2="1528.3" stroke="#e60012" stroke-width="8.4"/><path d="M1462.2,1519.3L1488.7,1521.2L1477.1,1529.3L1473.9,1543.1Z" fill="#e60012"/>
<line x1="1548.6" y1="1577.3" x2="1616.4" y2="1624.0" stroke="#e60012" stroke-width="8.4"/><path d="M1629.7,1633.1L1603.3,1630.9L1614.9,1622.9L1618.2,1609.2Z" fill="#e60012"/>
<text transform="translate(1370.29,1274.14) scale(0.9698,1)" font-family='"Liberation Sans", Arial, sans-serif' font-size="67.77" fill="#231815">(h)</text>
<text transform="translate(1776.35,1477.21) scale(0.8469,1)" font-family='"Liberation Sans", Arial, sans-serif' font-size="59.08" fill="#000">120°</text>
<circle cx="276.3" cy="1898.0" r="25.3" fill="url(#gCli)"/>
<line x1="280.0" y1="2112.0" x2="277.0" y2="2001.0" stroke="#5a14b4" stroke-width="14.5"/><line x1="280.0" y1="2112.0" x2="277.0" y2="2001.0" stroke="#7a22ea" stroke-width="10.1"/><line x1="280.0" y1="2112.0" x2="277.0" y2="2001.0" stroke="#8c34ff" stroke-width="4.1"/><line x1="277.0" y1="2001.0" x2="276.3" y2="1898.0" stroke="#7a7a7a" stroke-width="14.5"/><line x1="277.0" y1="2001.0" x2="276.3" y2="1898.0" stroke="#a4a4a4" stroke-width="10.1"/><line x1="277.0" y1="2001.0" x2="276.3" y2="1898.0" stroke="#c6c6c6" stroke-width="4.1"/>
<line x1="280.0" y1="2112.0" x2="228.0" y2="2132.0" stroke="#5a14b4" stroke-width="14.5"/><line x1="280.0" y1="2112.0" x2="228.0" y2="2132.0" stroke="#7a22ea" stroke-width="10.1"/><line x1="280.0" y1="2112.0" x2="228.0" y2="2132.0" stroke="#8c34ff" stroke-width="4.1"/><line x1="228.0" y1="2132.0" x2="174.0" y2="2154.0" stroke="#7a7a7a" stroke-width="14.5"/><line x1="228.0" y1="2132.0" x2="174.0" y2="2154.0" stroke="#a4a4a4" stroke-width="10.1"/><line x1="228.0" y1="2132.0" x2="174.0" y2="2154.0" stroke="#c6c6c6" stroke-width="4.1"/>
<line x1="280.0" y1="2112.0" x2="330.0" y2="2118.0" stroke="#5a14b4" stroke-width="14.5"/><line x1="280.0" y1="2112.0" x2="330.0" y2="2118.0" stroke="#7a22ea" stroke-width="10.1"/><line x1="280.0" y1="2112.0" x2="330.0" y2="2118.0" stroke="#8c34ff" stroke-width="4.1"/><line x1="330.0" y1="2118.0" x2="476.3" y2="2135.0" stroke="#7a7a7a" stroke-width="14.5"/><line x1="330.0" y1="2118.0" x2="476.3" y2="2135.0" stroke="#a4a4a4" stroke-width="10.1"/><line x1="330.0" y1="2118.0" x2="476.3" y2="2135.0" stroke="#c6c6c6" stroke-width="4.1"/>
<line x1="174.7" y1="2375.6" x2="174.5" y2="2258.5" stroke="#5a14b4" stroke-width="14.5"/><line x1="174.7" y1="2375.6" x2="174.5" y2="2258.5" stroke="#7a22ea" stroke-width="10.1"/><line x1="174.7" y1="2375.6" x2="174.5" y2="2258.5" stroke="#8c34ff" stroke-width="4.1"/><line x1="174.5" y1="2258.5" x2="174.0" y2="2154.0" stroke="#7a7a7a" stroke-width="14.5"/><line x1="174.5" y1="2258.5" x2="174.0" y2="2154.0" stroke="#a4a4a4" stroke-width="10.1"/><line x1="174.5" y1="2258.5" x2="174.0" y2="2154.0" stroke="#c6c6c6" stroke-width="4.1"/>
<line x1="477.5" y1="2357.1" x2="477.0" y2="2238.7" stroke="#5a14b4" stroke-width="14.5"/><line x1="477.5" y1="2357.1" x2="477.0" y2="2238.7" stroke="#7a22ea" stroke-width="10.1"/><line x1="477.5" y1="2357.1" x2="477.0" y2="2238.7" stroke="#8c34ff" stroke-width="4.1"/><line x1="477.0" y1="2238.7" x2="476.3" y2="2135.0" stroke="#7a7a7a" stroke-width="14.5"/><line x1="477.0" y1="2238.7" x2="476.3" y2="2135.0" stroke="#a4a4a4" stroke-width="10.1"/><line x1="477.0" y1="2238.7" x2="476.3" y2="2135.0" stroke="#c6c6c6" stroke-width="4.1"/>
<line x1="580.5" y1="2098.7" x2="579.5" y2="1981.6" stroke="#5a14b4" stroke-width="14.5"/><line x1="580.5" y1="2098.7" x2="579.5" y2="1981.6" stroke="#7a22ea" stroke-width="10.1"/><line x1="580.5" y1="2098.7" x2="579.5" y2="1981.6" stroke="#8c34ff" stroke-width="4.1"/><line x1="579.5" y1="1981.6" x2="578.6" y2="1878.5" stroke="#7a7a7a" stroke-width="14.5"/><line x1="579.5" y1="1981.6" x2="578.6" y2="1878.5" stroke="#a4a4a4" stroke-width="10.1"/><line x1="579.5" y1="1981.6" x2="578.6" y2="1878.5" stroke="#c6c6c6" stroke-width="4.1"/>
<line x1="580.5" y1="2098.7" x2="684.7" y2="2109.5" stroke="#5a14b4" stroke-width="14.5"/><line x1="580.5" y1="2098.7" x2="684.7" y2="2109.5" stroke="#7a22ea" stroke-width="10.1"/><line x1="580.5" y1="2098.7" x2="684.7" y2="2109.5" stroke="#8c34ff" stroke-width="4.1"/><line x1="684.7" y1="2109.5" x2="779.6" y2="2116.3" stroke="#7a7a7a" stroke-width="14.5"/><line x1="684.7" y1="2109.5" x2="779.6" y2="2116.3" stroke="#a4a4a4" stroke-width="10.1"/><line x1="684.7" y1="2109.5" x2="779.6" y2="2116.3" stroke="#c6c6c6" stroke-width="4.1"/>
<line x1="580.5" y1="2098.7" x2="532.0" y2="2116.0" stroke="#5a14b4" stroke-width="14.5"/><line x1="580.5" y1="2098.7" x2="532.0" y2="2116.0" stroke="#7a22ea" stroke-width="10.1"/><line x1="580.5" y1="2098.7" x2="532.0" y2="2116.0" stroke="#8c34ff" stroke-width="4.1"/><line x1="532.0" y1="2116.0" x2="476.3" y2="2135.0" stroke="#7a7a7a" stroke-width="14.5"/><line x1="532.0" y1="2116.0" x2="476.3" y2="2135.0" stroke="#a4a4a4" stroke-width="10.1"/><line x1="532.0" y1="2116.0" x2="476.3" y2="2135.0" stroke="#c6c6c6" stroke-width="4.1"/>
<line x1="174.7" y1="2375.6" x2="278.2" y2="2384.0" stroke="#5a14b4" stroke-width="14.5"/><line x1="174.7" y1="2375.6" x2="278.2" y2="2384.0" stroke="#7a22ea" stroke-width="10.1"/><line x1="174.7" y1="2375.6" x2="278.2" y2="2384.0" stroke="#8c34ff" stroke-width="4.1"/><line x1="278.2" y1="2384.0" x2="373.1" y2="2392.0" stroke="#7a7a7a" stroke-width="14.5"/><line x1="278.2" y1="2384.0" x2="373.1" y2="2392.0" stroke="#a4a4a4" stroke-width="10.1"/><line x1="278.2" y1="2384.0" x2="373.1" y2="2392.0" stroke="#c6c6c6" stroke-width="4.1"/>
<line x1="174.7" y1="2375.6" x2="123.7" y2="2395.0" stroke="#5a14b4" stroke-width="14.5"/><line x1="174.7" y1="2375.6" x2="123.7" y2="2395.0" stroke="#7a22ea" stroke-width="10.1"/><line x1="174.7" y1="2375.6" x2="123.7" y2="2395.0" stroke="#8c34ff" stroke-width="4.1"/><line x1="123.7" y1="2395.0" x2="69.8" y2="2412.0" stroke="#7a7a7a" stroke-width="14.5"/><line x1="123.7" y1="2395.0" x2="69.8" y2="2412.0" stroke="#a4a4a4" stroke-width="10.1"/><line x1="123.7" y1="2395.0" x2="69.8" y2="2412.0" stroke="#c6c6c6" stroke-width="4.1"/>
<line x1="477.5" y1="2357.1" x2="427.8" y2="2373.0" stroke="#5a14b4" stroke-width="14.5"/><line x1="477.5" y1="2357.1" x2="427.8" y2="2373.0" stroke="#7a22ea" stroke-width="10.1"/><line x1="477.5" y1="2357.1" x2="427.8" y2="2373.0" stroke="#8c34ff" stroke-width="4.1"/><line x1="427.8" y1="2373.0" x2="373.1" y2="2392.0" stroke="#7a7a7a" stroke-width="14.5"/><line x1="427.8" y1="2373.0" x2="373.1" y2="2392.0" stroke="#a4a4a4" stroke-width="10.1"/><line x1="427.8" y1="2373.0" x2="373.1" y2="2392.0" stroke="#c6c6c6" stroke-width="4.1"/>
<line x1="477.5" y1="2357.1" x2="582.0" y2="2365.0" stroke="#5a14b4" stroke-width="14.5"/><line x1="477.5" y1="2357.1" x2="582.0" y2="2365.0" stroke="#7a22ea" stroke-width="10.1"/><line x1="477.5" y1="2357.1" x2="582.0" y2="2365.0" stroke="#8c34ff" stroke-width="4.1"/><line x1="582.0" y1="2365.0" x2="676.6" y2="2373.1" stroke="#7a7a7a" stroke-width="14.5"/><line x1="582.0" y1="2365.0" x2="676.6" y2="2373.1" stroke="#a4a4a4" stroke-width="10.1"/><line x1="582.0" y1="2365.0" x2="676.6" y2="2373.1" stroke="#c6c6c6" stroke-width="4.1"/>
<circle cx="174.0" cy="2154.0" r="25.0" fill="url(#gCli)"/>
<circle cx="476.3" cy="2135.0" r="25.0" fill="url(#gCli)"/>
<circle cx="578.6" cy="1878.5" r="25.0" fill="url(#gCli)"/>
<circle cx="779.6" cy="2116.3" r="25.0" fill="url(#gCli)"/>
<circle cx="373.1" cy="2392.0" r="25.0" fill="url(#gCli)"/>
<circle cx="69.8" cy="2412.0" r="25.0" fill="url(#gCli)"/>
<circle cx="676.6" cy="2373.1" r="25.0" fill="url(#gCli)"/>
<circle cx="580.5" cy="2098.7" r="41.0" fill="url(#gTbi)"/>
<circle cx="174.7" cy="2375.6" r="41.0" fill="url(#gTbi)"/>
<circle cx="477.5" cy="2357.1" r="41.0" fill="url(#gTbi)"/>
<polygon points="70,2191.4 340,2088 736.3,2110.4 484.5,2215.8" fill="rgb(237,110,115)" fill-opacity="0.55"/>
<clipPath id="clipPink"><polygon points="70,2191.4 340,2088 736.3,2110.4 484.5,2215.8"/></clipPath>
<polygon points="67.8,1968.2 277.6,1896.2 278.2,2338.2 67.5,2410.8" fill="rgb(111,202,148)" fill-opacity="0.55"/>
<polygon points="67.8,1968.2 277.6,1896.2 278.2,2338.2 67.5,2410.8" fill="rgb(160,117,90)" fill-opacity="0.3" clip-path="url(#clipPink)"/>
<polygon points="277.6,1896.2 476.9,1928.3 476.9,2351.2 278.2,2338.2" fill="rgb(28,173,228)" fill-opacity="0.55"/>
<ellipse cx="254.8" cy="2151.8" rx="23" ry="19.7" fill="url(#gOrbD)"/>
<ellipse cx="279" cy="2118" rx="50.5" ry="47" transform="rotate(12 279 2118)" fill="url(#gOrbB)"/>
<ellipse cx="300.7" cy="2086.2" rx="38.4" ry="40.3" fill="url(#gOrbT)"/>
<line x1="276.9" y1="2050" x2="276.9" y2="1852" stroke="#231815" stroke-width="2.8"/>
<path d="M276.9,1828.3 L292.4,1861.3 L276.9,1854.0 L261.4,1861.3 Z" fill="#231815"/>
<line x1="231" y1="2132.4" x2="125" y2="2170" stroke="#1f4a2a" stroke-width="3.6"/>
<path d="M100.0,2178.3 L129.7,2154.1 L126.5,2169.0 L138.3,2178.7 Z" fill="#1f4a2a"/>
<line x1="330" y1="2127.5" x2="525" y2="2138" stroke="#6e1818" stroke-width="3.6"/>
<path d="M550.0,2139.7 L513.3,2150.7 L522.0,2138.1 L514.8,2124.7 Z" fill="#6e1818"/>
<path d="M327.4,2379.2 Q370,2338 414.1,2373.3" fill="none" stroke="#000" stroke-width="1.8"/>
<text transform="translate(20.12,1785.43) scale(1.0027,1)" font-family='"Liberation Sans", Arial, sans-serif' font-size="68.31" fill="#231815">(i)</text>
<text transform="translate(261.31,1816.50) scale(1.1301,1)" font-family='"Liberation Sans", Arial, sans-serif' font-size="63.89" fill="#000">z</text>
<text transform="translate(295.91,1825.84) scale(0.9592,1)" font-family='"Liberation Sans", Arial, sans-serif' font-size="70.89" fill="#000">′</text>
<text transform="translate(76.71,2232.60) scale(0.9853,1)" font-family='"Liberation Sans", Arial, sans-serif' font-size="63.89" fill="#000">x</text>
<text transform="translate(108.00,2243.32) scale(1.0154,1)" font-family='"Liberation Sans", Arial, sans-serif' font-size="74.06" fill="#000">′</text>
<text transform="translate(524.17,2194.91) scale(0.7756,1)" font-family='"Liberation Sans", Arial, sans-serif' font-size="66.94" fill="#000">y</text>
<text transform="translate(550.04,2211.11) scale(1.4283,1)" font-family='"Liberation Sans", Arial, sans-serif' font-size="78.42" fill="#000">′</text>
<text transform="translate(39.99,2035.40) scale(0.9118,1)" font-family='"Liberation Sans", Arial, sans-serif' font-size="66.67" fill="#d4601a">t</text>
<text transform="translate(57.64,2044.58) scale(0.9298,1)" font-family='"Liberation Sans", Arial, sans-serif' font-size="40.11" fill="#d86a1a">2g</text>
<text transform="translate(95.62,2035.29) scale(0.9710,1)" font-family='"Liberation Sans", Arial, sans-serif' font-size="61.22" fill="#e07818">-combined arbital</text>
<text transform="translate(280.73,2349.35) scale(0.9330,1)" font-family='"Liberation Sans", Arial, sans-serif' font-size="54.70" fill="#000">84.69°</text>
<text transform="translate(129.48,2471.08) scale(1.1363,1)" font-family='"Liberation Serif", "Times New Roman", serif' font-size="61.56" fill="#000">Tb</text>
<text transform="translate(202.55,2474.00) scale(1.0036,1)" font-family='"Liberation Serif", "Times New Roman", serif' font-size="33.64" fill="#000">1</text>
<text transform="translate(328.31,2471.05)" font-family='"Liberation Serif", "Times New Roman", serif' font-size="64.82" fill="#000">Cl</text>
<text transform="translate(470.48,2454.08) scale(1.0314,1)" font-family='"Liberation Serif", "Times New Roman", serif' font-size="62.13" fill="#000">Tb</text>
<text transform="translate(540.78,2457.70) scale(1.2606,1)" font-family='"Liberation Serif", "Times New Roman", serif' font-size="45.13" fill="#000">2</text>
<rect x="611.5" y="1753.5" width="322.9" height="251.6" fill="none" stroke="#f04a28" stroke-width="1.3" stroke-dasharray="6.5 3.5"/>
<rect x="697.5" y="1919.1" width="191" height="42.2" fill="#f7f7f7"/>
<line x1="792.7" y1="1897.2" x2="745" y2="1858" stroke="#7a22ea" stroke-width="5.5"/>
<line x1="745" y1="1858" x2="712.9" y2="1829.6" stroke="#a0a0a0" stroke-width="5.5"/>
<circle cx="712.9" cy="1829.6" r="12.5" fill="url(#gCli)"/>
<line x1="792.7" y1="1897.2" x2="792" y2="1862" stroke="#7a22ea" stroke-width="5.5"/>
<line x1="792" y1="1862" x2="791.1" y2="1831.6" stroke="#a0a0a0" stroke-width="5.5"/>
<circle cx="791.1" cy="1831.6" r="12.5" fill="url(#gCli)"/>
<line x1="792.7" y1="1897.2" x2="840" y2="1858" stroke="#7a22ea" stroke-width="5.5"/>
<line x1="840" y1="1858" x2="873.7" y2="1830.6" stroke="#a0a0a0" stroke-width="5.5"/>
<circle cx="873.7" cy="1830.6" r="12.5" fill="url(#gCli)"/>
<circle cx="792.7" cy="1899.0" r="19.0" fill="url(#gTbi)"/>
<ellipse cx="791.1" cy="1932.1" rx="19.2" ry="27.4" fill="url(#gOrbI)"/>
<ellipse cx="791.1" cy="1867.4" rx="19.2" ry="30.4" fill="url(#gOrbI)"/>
<ellipse cx="791.1" cy="1897.6" rx="30.9" ry="7.5" fill="url(#gOrbR)"/>
<line x1="792.7" y1="1897.2" x2="792.2" y2="1811.7" stroke="#231815" stroke-width="2.8"/>
<path d="M792.1,1802.7 L797.7,1815.7 L792.2,1812.1 L786.7,1815.7 Z" fill="#231815"/>
<line x1="792.7" y1="1897.2" x2="695.4" y2="1812.6" stroke="#231815" stroke-width="2.8"/>
<path d="M688.6,1806.7 L702.0,1811.1 L695.7,1812.8 L694.8,1819.4 Z" fill="#231815"/>
<line x1="792.7" y1="1897.2" x2="891.7" y2="1815.4" stroke="#231815" stroke-width="2.8"/>
<path d="M898.6,1809.7 L892.1,1822.2 L891.4,1815.7 L885.1,1813.7 Z" fill="#231815"/>
<path d="M660.7,1958 L661.5,1928 M660.7,1958 L700,1958.8 M660.7,1958 L642,1979" stroke="#231815" stroke-width="2.4" fill="none"/>
<path d="M661.7,1920.1 L666.4,1931.2 L661.5,1927.8 L656.4,1931.0 Z" fill="#231815"/>
<path d="M708.5,1959.0 L697.4,1963.8 L700.8,1958.8 L697.6,1953.8 Z" fill="#231815"/>
<path d="M636.8,1984.8 L640.4,1973.3 L641.9,1979.1 L647.9,1979.9 Z" fill="#231815"/>
<text transform="translate(661.15,1814.60) scale(0.8996,1)" font-family='"Liberation Sans", Arial, sans-serif' font-size="48.91" fill="#000">x</text>
<text transform="translate(684.25,1820.09) scale(0.8766,1)" font-family='"Liberation Sans", Arial, sans-serif' font-size="62.97" fill="#000">′</text>
<text transform="translate(780.26,1796.70) scale(0.9766,1)" font-family='"Liberation Sans", Arial, sans-serif' font-size="47.20" fill="#000">z</text>
<text transform="translate(800.28,1805.91) scale(0.9562,1)" font-family='"Liberation Sans", Arial, sans-serif' font-size="66.93" fill="#000">′</text>
<text transform="translate(896.50,1811.49) scale(0.8254,1)" font-family='"Liberation Sans", Arial, sans-serif' font-size="48.71" fill="#000">y</text>
<text transform="translate(915.27,1821.09) scale(1.1288,1)" font-family='"Liberation Sans", Arial, sans-serif' font-size="67.33" fill="#000">′</text>
<text transform="translate(649.03,1916.67) scale(0.9576,1)" font-family='"Liberation Sans", Arial, sans-serif' font-size="43.47" fill="#000">c</text>
<text transform="translate(705.34,1969.43) scale(1.0279,1)" font-family='"Liberation Sans", Arial, sans-serif' font-size="47.35" fill="#000">b</text>
<text transform="translate(616.34,2000.25) scale(0.8102,1)" font-family='"Liberation Sans", Arial, sans-serif' font-size="45.30" fill="#000">a</text>
<polyline fill="none" stroke="#ff1a1a" stroke-width="1.2" points="1109.7,2122.5 1114.7,2118.1 1119.7,2117.8 1124.6,2117.4 1129.6,2114.4 1134.6,2114.7 1139.6,2113.6 1144.6,2109.7 1149.5,2113.1 1154.5,2111.3 1159.5,2108.3 1164.5,2107.9 1169.5,2107.8 1174.5,2105.4 1179.4,2104.2 1184.4,2101.0 1189.4,2102.8 1194.4,2100.8 1199.4,2099.6 1204.3,2095.2 1209.3,2098.8 1214.3,2089.4 1219.3,2092.5 1224.3,2094.7 1229.2,2089.8 1234.2,2085.9 1239.2,2085.8 1244.2,2081.0 1249.2,2084.5 1254.2,2080.3 1259.1,2077.8 1264.1,2078.6 1269.1,2072.2 1274.1,2073.7 1279.1,2067.4 1284.0,2067.6 1289.0,2064.6 1294.0,2066.8 1299.0,2062.3 1304.0,2060.0 1308.9,2059.9 1313.9,2056.3 1318.9,2055.5 1323.9,2051.3 1328.9,2047.6 1333.9,2045.1 1338.8,2046.1 1343.8,2043.7 1348.8,2039.8 1353.8,2034.9 1358.8,2034.2 1363.7,2026.3 1368.7,2020.6 1373.7,2015.6 1378.7,2010.2 1383.7,2005.4 1388.6,1999.6 1393.6,1998.6 1396.9,1993.9 1401.9,1980.2 1406.9,1964.9 1411.6,1965.9 1416.7,1942.2 1421.8,1925.9 1426.9,1913.2 1431.6,1884.5 1436.9,1845.8 1442.2,1853.7 1446.9,1873.9 1451.7,1889.3 1456.4,1933.6 1461.4,1952.8 1466.4,1975.4 1471.7,1998.1 1478.3,2019.4 1483.3,2032.6 1488.3,2043.5 1493.2,2051.0 1498.2,2054.4 1503.2,2061.2 1508.2,2072.2 1513.2,2080.4 1518.2,2087.1 1523.1,2094.5 1528.1,2101.8 1533.1,2107.8 1538.1,2112.2 1543.1,2115.3 1548.0,2119.7 1553.0,2126.6 1558.0,2133.5 1563.0,2138.2 1568.0,2142.1 1572.9,2145.5 1577.9,2149.0 1582.9,2152.9 1587.9,2157.0 1592.9,2161.1 1597.8,2165.0 1602.8,2168.6 1607.8,2172.0 1612.8,2175.3 1617.8,2178.6 1622.8,2181.7 1627.7,2184.8 1632.7,2187.7 1637.7,2190.7 1642.7,2193.5 1647.7,2196.3 1652.6,2199.0 1657.6,2201.7 1662.6,2204.3 1667.6,2207.0 1672.6,2209.6 1677.5,2212.3 1682.5,2215.0 1687.5,2217.7 1692.5,2220.4 1697.5,2223.1 1702.5,2225.7 1707.4,2228.3 1712.4,2230.9 1717.4,2233.3 1722.4,2235.6 1727.4,2237.7 1732.3,2239.8 1737.3,2241.8 1742.3,2243.8 1747.3,2245.7 1752.3,2247.5 1757.2,2249.3 1762.2,2251.0 1767.2,2252.6 1772.2,2254.2 1777.2,2255.7 1782.2,2257.2 1787.1,2258.6 1792.1,2260.0 1797.1,2261.3 1802.1,2262.6 1807.1,2263.8 1812.0,2265.0 1817.0,2266.1 1822.0,2267.2"/><g fill="none" stroke="#ff1a1a" stroke-width="1.35"><ellipse cx="1109.7" cy="2122.5" rx="7.4" ry="8.5"/><ellipse cx="1114.7" cy="2118.1" rx="7.4" ry="8.5"/><ellipse cx="1119.7" cy="2117.8" rx="7.4" ry="8.5"/><ellipse cx="1124.6" cy="2117.4" rx="7.4" ry="8.5"/><ellipse cx="1129.6" cy="2114.4" rx="7.4" ry="8.5"/><ellipse cx="1134.6" cy="2114.7" rx="7.4" ry="8.5"/><ellipse cx="1139.6" cy="2113.6" rx="7.4" ry="8.5"/><ellipse cx="1144.6" cy="2109.7" rx="7.4" ry="8.5"/><ellipse cx="1149.5" cy="2113.1" rx="7.4" ry="8.5"/><ellipse cx="1154.5" cy="2111.3" rx="7.4" ry="8.5"/><ellipse cx="1159.5" cy="2108.3" rx="7.4" ry="8.5"/><ellipse cx="1164.5" cy="2107.9" rx="7.4" ry="8.5"/><ellipse cx="1169.5" cy="2107.8" rx="7.4" ry="8.5"/><ellipse cx="1174.5" cy="2105.4" rx="7.4" ry="8.5"/><ellipse cx="1179.4" cy="2104.2" rx="7.4" ry="8.5"/><ellipse cx="1184.4" cy="2101.0" rx="7.4" ry="8.5"/><ellipse cx="1189.4" cy="2102.8" rx="7.4" ry="8.5"/><ellipse cx="1194.4" cy="2100.8" rx="7.4" ry="8.5"/><ellipse cx="1199.4" cy="2099.6" rx="7.4" ry="8.5"/><ellipse cx="1204.3" cy="2095.2" rx="7.4" ry="8.5"/><ellipse cx="1209.3" cy="2098.8" rx="7.4" ry="8.5"/><ellipse cx="1214.3" cy="2089.4" rx="7.4" ry="8.5"/><ellipse cx="1219.3" cy="2092.5" rx="7.4" ry="8.5"/><ellipse cx="1224.3" cy="2094.7" rx="7.4" ry="8.5"/><ellipse cx="1229.2" cy="2089.8" rx="7.4" ry="8.5"/><ellipse cx="1234.2" cy="2085.9" rx="7.4" ry="8.5"/><ellipse cx="1239.2" cy="2085.8" rx="7.4" ry="8.5"/><ellipse cx="1244.2" cy="2081.0" rx="7.4" ry="8.5"/><ellipse cx="1249.2" cy="2084.5" rx="7.4" ry="8.5"/><ellipse cx="1254.2" cy="2080.3" rx="7.4" ry="8.5"/><ellipse cx="1259.1" cy="2077.8" rx="7.4" ry="8.5"/><ellipse cx="1264.1" cy="2078.6" rx="7.4" ry="8.5"/><ellipse cx="1269.1" cy="2072.2" rx="7.4" ry="8.5"/><ellipse cx="1274.1" cy="2073.7" rx="7.4" ry="8.5"/><ellipse cx="1279.1" cy="2067.4" rx="7.4" ry="8.5"/><ellipse cx="1284.0" cy="2067.6" rx="7.4" ry="8.5"/><ellipse cx="1289.0" cy="2064.6" rx="7.4" ry="8.5"/><ellipse cx="1294.0" cy="2066.8" rx="7.4" ry="8.5"/><ellipse cx="1299.0" cy="2062.3" rx="7.4" ry="8.5"/><ellipse cx="1304.0" cy="2060.0" rx="7.4" ry="8.5"/><ellipse cx="1308.9" cy="2059.9" rx="7.4" ry="8.5"/><ellipse cx="1313.9" cy="2056.3" rx="7.4" ry="8.5"/><ellipse cx="1318.9" cy="2055.5" rx="7.4" ry="8.5"/><ellipse cx="1323.9" cy="2051.3" rx="7.4" ry="8.5"/><ellipse cx="1328.9" cy="2047.6" rx="7.4" ry="8.5"/><ellipse cx="1333.9" cy="2045.1" rx="7.4" ry="8.5"/><ellipse cx="1338.8" cy="2046.1" rx="7.4" ry="8.5"/><ellipse cx="1343.8" cy="2043.7" rx="7.4" ry="8.5"/><ellipse cx="1348.8" cy="2039.8" rx="7.4" ry="8.5"/><ellipse cx="1353.8" cy="2034.9" rx="7.4" ry="8.5"/><ellipse cx="1358.8" cy="2034.2" rx="7.4" ry="8.5"/><ellipse cx="1363.7" cy="2026.3" rx="7.4" ry="8.5"/><ellipse cx="1368.7" cy="2020.6" rx="7.4" ry="8.5"/><ellipse cx="1373.7" cy="2015.6" rx="7.4" ry="8.5"/><ellipse cx="1378.7" cy="2010.2" rx="7.4" ry="8.5"/><ellipse cx="1383.7" cy="2005.4" rx="7.4" ry="8.5"/><ellipse cx="1388.6" cy="1999.6" rx="7.4" ry="8.5"/><ellipse cx="1393.6" cy="1998.6" rx="7.4" ry="8.5"/><ellipse cx="1396.9" cy="1993.9" rx="7.4" ry="8.5"/><ellipse cx="1401.9" cy="1980.2" rx="7.4" ry="8.5"/><ellipse cx="1406.9" cy="1964.9" rx="7.4" ry="8.5"/><ellipse cx="1411.6" cy="1965.9" rx="7.4" ry="8.5"/><ellipse cx="1416.7" cy="1942.2" rx="7.4" ry="8.5"/><ellipse cx="1421.8" cy="1925.9" rx="7.4" ry="8.5"/><ellipse cx="1426.9" cy="1913.2" rx="7.4" ry="8.5"/><ellipse cx="1431.6" cy="1884.5" rx="7.4" ry="8.5"/><ellipse cx="1436.9" cy="1845.8" rx="7.4" ry="8.5"/><ellipse cx="1442.2" cy="1853.7" rx="7.4" ry="8.5"/><ellipse cx="1446.9" cy="1873.9" rx="7.4" ry="8.5"/><ellipse cx="1451.7" cy="1889.3" rx="7.4" ry="8.5"/><ellipse cx="1456.4" cy="1933.6" rx="7.4" ry="8.5"/><ellipse cx="1461.4" cy="1952.8" rx="7.4" ry="8.5"/><ellipse cx="1466.4" cy="1975.4" rx="7.4" ry="8.5"/><ellipse cx="1471.7" cy="1998.1" rx="7.4" ry="8.5"/><ellipse cx="1478.3" cy="2019.4" rx="7.4" ry="8.5"/><ellipse cx="1483.3" cy="2032.6" rx="7.4" ry="8.5"/><ellipse cx="1488.3" cy="2043.5" rx="7.4" ry="8.5"/><ellipse cx="1493.2" cy="2051.0" rx="7.4" ry="8.5"/><ellipse cx="1498.2" cy="2054.4" rx="7.4" ry="8.5"/><ellipse cx="1503.2" cy="2061.2" rx="7.4" ry="8.5"/><ellipse cx="1508.2" cy="2072.2" rx="7.4" ry="8.5"/><ellipse cx="1513.2" cy="2080.4" rx="7.4" ry="8.5"/><ellipse cx="1518.2" cy="2087.1" rx="7.4" ry="8.5"/><ellipse cx="1523.1" cy="2094.5" rx="7.4" ry="8.5"/><ellipse cx="1528.1" cy="2101.8" rx="7.4" ry="8.5"/><ellipse cx="1533.1" cy="2107.8" rx="7.4" ry="8.5"/><ellipse cx="1538.1" cy="2112.2" rx="7.4" ry="8.5"/><ellipse cx="1543.1" cy="2115.3" rx="7.4" ry="8.5"/><ellipse cx="1548.0" cy="2119.7" rx="7.4" ry="8.5"/><ellipse cx="1553.0" cy="2126.6" rx="7.4" ry="8.5"/><ellipse cx="1558.0" cy="2133.5" rx="7.4" ry="8.5"/><ellipse cx="1563.0" cy="2138.2" rx="7.4" ry="8.5"/><ellipse cx="1568.0" cy="2142.1" rx="7.4" ry="8.5"/><ellipse cx="1572.9" cy="2145.5" rx="7.4" ry="8.5"/><ellipse cx="1577.9" cy="2149.0" rx="7.4" ry="8.5"/><ellipse cx="1582.9" cy="2152.9" rx="7.4" ry="8.5"/><ellipse cx="1587.9" cy="2157.0" rx="7.4" ry="8.5"/><ellipse cx="1592.9" cy="2161.1" rx="7.4" ry="8.5"/><ellipse cx="1597.8" cy="2165.0" rx="7.4" ry="8.5"/><ellipse cx="1602.8" cy="2168.6" rx="7.4" ry="8.5"/><ellipse cx="1607.8" cy="2172.0" rx="7.4" ry="8.5"/><ellipse cx="1612.8" cy="2175.3" rx="7.4" ry="8.5"/><ellipse cx="1617.8" cy="2178.6" rx="7.4" ry="8.5"/><ellipse cx="1622.8" cy="2181.7" rx="7.4" ry="8.5"/><ellipse cx="1627.7" cy="2184.8" rx="7.4" ry="8.5"/><ellipse cx="1632.7" cy="2187.7" rx="7.4" ry="8.5"/><ellipse cx="1637.7" cy="2190.7" rx="7.4" ry="8.5"/><ellipse cx="1642.7" cy="2193.5" rx="7.4" ry="8.5"/><ellipse cx="1647.7" cy="2196.3" rx="7.4" ry="8.5"/><ellipse cx="1652.6" cy="2199.0" rx="7.4" ry="8.5"/><ellipse cx="1657.6" cy="2201.7" rx="7.4" ry="8.5"/><ellipse cx="1662.6" cy="2204.3" rx="7.4" ry="8.5"/><ellipse cx="1667.6" cy="2207.0" rx="7.4" ry="8.5"/><ellipse cx="1672.6" cy="2209.6" rx="7.4" ry="8.5"/><ellipse cx="1677.5" cy="2212.3" rx="7.4" ry="8.5"/><ellipse cx="1682.5" cy="2215.0" rx="7.4" ry="8.5"/><ellipse cx="1687.5" cy="2217.7" rx="7.4" ry="8.5"/><ellipse cx="1692.5" cy="2220.4" rx="7.4" ry="8.5"/><ellipse cx="1697.5" cy="2223.1" rx="7.4" ry="8.5"/><ellipse cx="1702.5" cy="2225.7" rx="7.4" ry="8.5"/><ellipse cx="1707.4" cy="2228.3" rx="7.4" ry="8.5"/><ellipse cx="1712.4" cy="2230.9" rx="7.4" ry="8.5"/><ellipse cx="1717.4" cy="2233.3" rx="7.4" ry="8.5"/><ellipse cx="1722.4" cy="2235.6" rx="7.4" ry="8.5"/><ellipse cx="1727.4" cy="2237.7" rx="7.4" ry="8.5"/><ellipse cx="1732.3" cy="2239.8" rx="7.4" ry="8.5"/><ellipse cx="1737.3" cy="2241.8" rx="7.4" ry="8.5"/><ellipse cx="1742.3" cy="2243.8" rx="7.4" ry="8.5"/><ellipse cx="1747.3" cy="2245.7" rx="7.4" ry="8.5"/><ellipse cx="1752.3" cy="2247.5" rx="7.4" ry="8.5"/><ellipse cx="1757.2" cy="2249.3" rx="7.4" ry="8.5"/><ellipse cx="1762.2" cy="2251.0" rx="7.4" ry="8.5"/><ellipse cx="1767.2" cy="2252.6" rx="7.4" ry="8.5"/><ellipse cx="1772.2" cy="2254.2" rx="7.4" ry="8.5"/><ellipse cx="1777.2" cy="2255.7" rx="7.4" ry="8.5"/><ellipse cx="1782.2" cy="2257.2" rx="7.4" ry="8.5"/><ellipse cx="1787.1" cy="2258.6" rx="7.4" ry="8.5"/><ellipse cx="1792.1" cy="2260.0" rx="7.4" ry="8.5"/><ellipse cx="1797.1" cy="2261.3" rx="7.4" ry="8.5"/><ellipse cx="1802.1" cy="2262.6" rx="7.4" ry="8.5"/><ellipse cx="1807.1" cy="2263.8" rx="7.4" ry="8.5"/><ellipse cx="1812.0" cy="2265.0" rx="7.4" ry="8.5"/><ellipse cx="1817.0" cy="2266.1" rx="7.4" ry="8.5"/><ellipse cx="1822.0" cy="2267.2" rx="7.4" ry="8.5"/></g>
<polyline fill="none" stroke="#2a2aff" stroke-width="1.2" points="1109.7,1865.8 1114.7,1869.2 1119.7,1872.5 1124.6,1875.9 1129.6,1879.2 1134.6,1882.4 1139.6,1885.7 1144.6,1888.8 1149.5,1892.0 1154.5,1895.2 1159.5,1898.3 1164.5,1901.3 1169.5,1904.3 1174.5,1907.2 1179.4,1910.2 1184.4,1913.1 1189.4,1916.1 1194.4,1919.1 1199.4,1922.2 1204.3,1925.2 1209.3,1928.3 1214.3,1931.4 1219.3,1934.5 1224.3,1937.7 1229.2,1940.9 1234.2,1944.1 1239.2,1947.4 1244.2,1950.7 1249.2,1954.0 1254.2,1957.3 1259.1,1960.7 1264.1,1964.2 1269.1,1967.8 1274.1,1971.5 1279.1,1975.3 1284.0,1979.1 1289.0,1982.9 1294.0,1986.5 1299.0,1990.1 1304.0,1993.6 1308.9,1997.2 1313.9,2000.8 1318.9,2004.5 1323.9,2008.2 1328.9,2012.0 1333.9,2015.8 1338.8,2019.7 1343.8,2023.9 1348.8,2028.3 1353.8,2033.1 1358.8,2038.0 1363.7,2043.1 1368.7,2048.3 1373.7,2054.0 1378.7,2060.6 1383.7,2067.3 1388.6,2073.6 1393.6,2079.2 1398.6,2084.4 1403.6,2090.2 1408.6,2096.4 1413.5,2103.3 1418.5,2112.1 1423.5,2123.3 1428.5,2135.8 1433.5,2153.8 1438.5,2174.2 1443.4,2196.5 1448.4,2217.5 1453.4,2237.8 1458.4,2259.4 1463.4,2269.7 1468.3,2280.3 1473.3,2288.7 1478.3,2294.6 1483.3,2299.3 1488.3,2303.1 1493.2,2305.8 1498.2,2307.7 1503.2,2309.4 1508.2,2311.1 1513.2,2312.9 1518.2,2314.6 1523.1,2316.2 1528.1,2317.9 1533.1,2319.6 1538.1,2321.1 1543.1,2322.3 1548.0,2323.4 1553.0,2324.3 1558.0,2325.2 1563.0,2325.8 1568.0,2326.5 1572.9,2327.0 1577.9,2327.5 1582.9,2327.8 1587.9,2328.2 1592.9,2328.5 1597.8,2328.8 1602.8,2329.0 1607.8,2329.3 1612.8,2329.5 1617.8,2329.7 1622.8,2329.9 1627.7,2330.1 1632.7,2330.3 1637.7,2330.5 1642.7,2330.7 1647.7,2330.8 1652.6,2331.0 1657.6,2331.1 1662.6,2331.3 1667.6,2331.5 1672.6,2331.7 1677.5,2331.9 1682.5,2332.1 1687.5,2332.2 1692.5,2332.4 1697.5,2332.6 1702.5,2332.7 1707.4,2332.8 1712.4,2333.0 1717.4,2333.1 1722.4,2333.2 1727.4,2333.4 1732.3,2333.5 1737.3,2333.6 1742.3,2333.7 1747.3,2333.8 1752.3,2333.8 1757.2,2333.9 1762.2,2334.0 1767.2,2334.1 1772.2,2334.1 1777.2,2334.2 1782.2,2334.2 1787.1,2334.3 1792.1,2334.3 1797.1,2334.3 1802.1,2334.3 1807.1,2334.4 1812.0,2334.4 1817.0,2334.4 1822.0,2334.4"/><g fill="none" stroke="#2a2aff" stroke-width="1.35"><ellipse cx="1109.7" cy="1865.8" rx="7.4" ry="8.5"/><ellipse cx="1114.7" cy="1869.2" rx="7.4" ry="8.5"/><ellipse cx="1119.7" cy="1872.5" rx="7.4" ry="8.5"/><ellipse cx="1124.6" cy="1875.9" rx="7.4" ry="8.5"/><ellipse cx="1129.6" cy="1879.2" rx="7.4" ry="8.5"/><ellipse cx="1134.6" cy="1882.4" rx="7.4" ry="8.5"/><ellipse cx="1139.6" cy="1885.7" rx="7.4" ry="8.5"/><ellipse cx="1144.6" cy="1888.8" rx="7.4" ry="8.5"/><ellipse cx="1149.5" cy="1892.0" rx="7.4" ry="8.5"/><ellipse cx="1154.5" cy="1895.2" rx="7.4" ry="8.5"/><ellipse cx="1159.5" cy="1898.3" rx="7.4" ry="8.5"/><ellipse cx="1164.5" cy="1901.3" rx="7.4" ry="8.5"/><ellipse cx="1169.5" cy="1904.3" rx="7.4" ry="8.5"/><ellipse cx="1174.5" cy="1907.2" rx="7.4" ry="8.5"/><ellipse cx="1179.4" cy="1910.2" rx="7.4" ry="8.5"/><ellipse cx="1184.4" cy="1913.1" rx="7.4" ry="8.5"/><ellipse cx="1189.4" cy="1916.1" rx="7.4" ry="8.5"/><ellipse cx="1194.4" cy="1919.1" rx="7.4" ry="8.5"/><ellipse cx="1199.4" cy="1922.2" rx="7.4" ry="8.5"/><ellipse cx="1204.3" cy="1925.2" rx="7.4" ry="8.5"/><ellipse cx="1209.3" cy="1928.3" rx="7.4" ry="8.5"/><ellipse cx="1214.3" cy="1931.4" rx="7.4" ry="8.5"/><ellipse cx="1219.3" cy="1934.5" rx="7.4" ry="8.5"/><ellipse cx="1224.3" cy="1937.7" rx="7.4" ry="8.5"/><ellipse cx="1229.2" cy="1940.9" rx="7.4" ry="8.5"/><ellipse cx="1234.2" cy="1944.1" rx="7.4" ry="8.5"/><ellipse cx="1239.2" cy="1947.4" rx="7.4" ry="8.5"/><ellipse cx="1244.2" cy="1950.7" rx="7.4" ry="8.5"/><ellipse cx="1249.2" cy="1954.0" rx="7.4" ry="8.5"/><ellipse cx="1254.2" cy="1957.3" rx="7.4" ry="8.5"/><ellipse cx="1259.1" cy="1960.7" rx="7.4" ry="8.5"/><ellipse cx="1264.1" cy="1964.2" rx="7.4" ry="8.5"/><ellipse cx="1269.1" cy="1967.8" rx="7.4" ry="8.5"/><ellipse cx="1274.1" cy="1971.5" rx="7.4" ry="8.5"/><ellipse cx="1279.1" cy="1975.3" rx="7.4" ry="8.5"/><ellipse cx="1284.0" cy="1979.1" rx="7.4" ry="8.5"/><ellipse cx="1289.0" cy="1982.9" rx="7.4" ry="8.5"/><ellipse cx="1294.0" cy="1986.5" rx="7.4" ry="8.5"/><ellipse cx="1299.0" cy="1990.1" rx="7.4" ry="8.5"/><ellipse cx="1304.0" cy="1993.6" rx="7.4" ry="8.5"/><ellipse cx="1308.9" cy="1997.2" rx="7.4" ry="8.5"/><ellipse cx="1313.9" cy="2000.8" rx="7.4" ry="8.5"/><ellipse cx="1318.9" cy="2004.5" rx="7.4" ry="8.5"/><ellipse cx="1323.9" cy="2008.2" rx="7.4" ry="8.5"/><ellipse cx="1328.9" cy="2012.0" rx="7.4" ry="8.5"/><ellipse cx="1333.9" cy="2015.8" rx="7.4" ry="8.5"/><ellipse cx="1338.8" cy="2019.7" rx="7.4" ry="8.5"/><ellipse cx="1343.8" cy="2023.9" rx="7.4" ry="8.5"/><ellipse cx="1348.8" cy="2028.3" rx="7.4" ry="8.5"/><ellipse cx="1353.8" cy="2033.1" rx="7.4" ry="8.5"/><ellipse cx="1358.8" cy="2038.0" rx="7.4" ry="8.5"/><ellipse cx="1363.7" cy="2043.1" rx="7.4" ry="8.5"/><ellipse cx="1368.7" cy="2048.3" rx="7.4" ry="8.5"/><ellipse cx="1373.7" cy="2054.0" rx="7.4" ry="8.5"/><ellipse cx="1378.7" cy="2060.6" rx="7.4" ry="8.5"/><ellipse cx="1383.7" cy="2067.3" rx="7.4" ry="8.5"/><ellipse cx="1388.6" cy="2073.6" rx="7.4" ry="8.5"/><ellipse cx="1393.6" cy="2079.2" rx="7.4" ry="8.5"/><ellipse cx="1398.6" cy="2084.4" rx="7.4" ry="8.5"/><ellipse cx="1403.6" cy="2090.2" rx="7.4" ry="8.5"/><ellipse cx="1408.6" cy="2096.4" rx="7.4" ry="8.5"/><ellipse cx="1413.5" cy="2103.3" rx="7.4" ry="8.5"/><ellipse cx="1418.5" cy="2112.1" rx="7.4" ry="8.5"/><ellipse cx="1423.5" cy="2123.3" rx="7.4" ry="8.5"/><ellipse cx="1428.5" cy="2135.8" rx="7.4" ry="8.5"/><ellipse cx="1433.5" cy="2153.8" rx="7.4" ry="8.5"/><ellipse cx="1438.5" cy="2174.2" rx="7.4" ry="8.5"/><ellipse cx="1443.4" cy="2196.5" rx="7.4" ry="8.5"/><ellipse cx="1448.4" cy="2217.5" rx="7.4" ry="8.5"/><ellipse cx="1453.4" cy="2237.8" rx="7.4" ry="8.5"/><ellipse cx="1458.4" cy="2259.4" rx="7.4" ry="8.5"/><ellipse cx="1463.4" cy="2269.7" rx="7.4" ry="8.5"/><ellipse cx="1468.3" cy="2280.3" rx="7.4" ry="8.5"/><ellipse cx="1473.3" cy="2288.7" rx="7.4" ry="8.5"/><ellipse cx="1478.3" cy="2294.6" rx="7.4" ry="8.5"/><ellipse cx="1483.3" cy="2299.3" rx="7.4" ry="8.5"/><ellipse cx="1488.3" cy="2303.1" rx="7.4" ry="8.5"/><ellipse cx="1493.2" cy="2305.8" rx="7.4" ry="8.5"/><ellipse cx="1498.2" cy="2307.7" rx="7.4" ry="8.5"/><ellipse cx="1503.2" cy="2309.4" rx="7.4" ry="8.5"/><ellipse cx="1508.2" cy="2311.1" rx="7.4" ry="8.5"/><ellipse cx="1513.2" cy="2312.9" rx="7.4" ry="8.5"/><ellipse cx="1518.2" cy="2314.6" rx="7.4" ry="8.5"/><ellipse cx="1523.1" cy="2316.2" rx="7.4" ry="8.5"/><ellipse cx="1528.1" cy="2317.9" rx="7.4" ry="8.5"/><ellipse cx="1533.1" cy="2319.6" rx="7.4" ry="8.5"/><ellipse cx="1538.1" cy="2321.1" rx="7.4" ry="8.5"/><ellipse cx="1543.1" cy="2322.3" rx="7.4" ry="8.5"/><ellipse cx="1548.0" cy="2323.4" rx="7.4" ry="8.5"/><ellipse cx="1553.0" cy="2324.3" rx="7.4" ry="8.5"/><ellipse cx="1558.0" cy="2325.2" rx="7.4" ry="8.5"/><ellipse cx="1563.0" cy="2325.8" rx="7.4" ry="8.5"/><ellipse cx="1568.0" cy="2326.5" rx="7.4" ry="8.5"/><ellipse cx="1572.9" cy="2327.0" rx="7.4" ry="8.5"/><ellipse cx="1577.9" cy="2327.5" rx="7.4" ry="8.5"/><ellipse cx="1582.9" cy="2327.8" rx="7.4" ry="8.5"/><ellipse cx="1587.9" cy="2328.2" rx="7.4" ry="8.5"/><ellipse cx="1592.9" cy="2328.5" rx="7.4" ry="8.5"/><ellipse cx="1597.8" cy="2328.8" rx="7.4" ry="8.5"/><ellipse cx="1602.8" cy="2329.0" rx="7.4" ry="8.5"/><ellipse cx="1607.8" cy="2329.3" rx="7.4" ry="8.5"/><ellipse cx="1612.8" cy="2329.5" rx="7.4" ry="8.5"/><ellipse cx="1617.8" cy="2329.7" rx="7.4" ry="8.5"/><ellipse cx="1622.8" cy="2329.9" rx="7.4" ry="8.5"/><ellipse cx="1627.7" cy="2330.1" rx="7.4" ry="8.5"/><ellipse cx="1632.7" cy="2330.3" rx="7.4" ry="8.5"/><ellipse cx="1637.7" cy="2330.5" rx="7.4" ry="8.5"/><ellipse cx="1642.7" cy="2330.7" rx="7.4" ry="8.5"/><ellipse cx="1647.7" cy="2330.8" rx="7.4" ry="8.5"/><ellipse cx="1652.6" cy="2331.0" rx="7.4" ry="8.5"/><ellipse cx="1657.6" cy="2331.1" rx="7.4" ry="8.5"/><ellipse cx="1662.6" cy="2331.3" rx="7.4" ry="8.5"/><ellipse cx="1667.6" cy="2331.5" rx="7.4" ry="8.5"/><ellipse cx="1672.6" cy="2331.7" rx="7.4" ry="8.5"/><ellipse cx="1677.5" cy="2331.9" rx="7.4" ry="8.5"/><ellipse cx="1682.5" cy="2332.1" rx="7.4" ry="8.5"/><ellipse cx="1687.5" cy="2332.2" rx="7.4" ry="8.5"/><ellipse cx="1692.5" cy="2332.4" rx="7.4" ry="8.5"/><ellipse cx="1697.5" cy="2332.6" rx="7.4" ry="8.5"/><ellipse cx="1702.5" cy="2332.7" rx="7.4" ry="8.5"/><ellipse cx="1707.4" cy="2332.8" rx="7.4" ry="8.5"/><ellipse cx="1712.4" cy="2333.0" rx="7.4" ry="8.5"/><ellipse cx="1717.4" cy="2333.1" rx="7.4" ry="8.5"/><ellipse cx="1722.4" cy="2333.2" rx="7.4" ry="8.5"/><ellipse cx="1727.4" cy="2333.4" rx="7.4" ry="8.5"/><ellipse cx="1732.3" cy="2333.5" rx="7.4" ry="8.5"/><ellipse cx="1737.3" cy="2333.6" rx="7.4" ry="8.5"/><ellipse cx="1742.3" cy="2333.7" rx="7.4" ry="8.5"/><ellipse cx="1747.3" cy="2333.8" rx="7.4" ry="8.5"/><ellipse cx="1752.3" cy="2333.8" rx="7.4" ry="8.5"/><ellipse cx="1757.2" cy="2333.9" rx="7.4" ry="8.5"/><ellipse cx="1762.2" cy="2334.0" rx="7.4" ry="8.5"/><ellipse cx="1767.2" cy="2334.1" rx="7.4" ry="8.5"/><ellipse cx="1772.2" cy="2334.1" rx="7.4" ry="8.5"/><ellipse cx="1777.2" cy="2334.2" rx="7.4" ry="8.5"/><ellipse cx="1782.2" cy="2334.2" rx="7.4" ry="8.5"/><ellipse cx="1787.1" cy="2334.3" rx="7.4" ry="8.5"/><ellipse cx="1792.1" cy="2334.3" rx="7.4" ry="8.5"/><ellipse cx="1797.1" cy="2334.3" rx="7.4" ry="8.5"/><ellipse cx="1802.1" cy="2334.3" rx="7.4" ry="8.5"/><ellipse cx="1807.1" cy="2334.4" rx="7.4" ry="8.5"/><ellipse cx="1812.0" cy="2334.4" rx="7.4" ry="8.5"/><ellipse cx="1817.0" cy="2334.4" rx="7.4" ry="8.5"/><ellipse cx="1822.0" cy="2334.4" rx="7.4" ry="8.5"/></g>
<path d="M1188.5,2356.6v-16.8M1188.5,1771.0v16.8M1267.6,2356.6v-8.2M1267.6,1771.0v8.2M1346.8,2356.6v-16.8M1346.8,1771.0v16.8M1425.9,2356.6v-8.2M1425.9,1771.0v8.2M1505.0,2356.6v-16.8M1505.0,1771.0v16.8M1584.1,2356.6v-8.2M1584.1,1771.0v8.2M1663.2,2356.6v-16.8M1663.2,1771.0v16.8M1742.4,2356.6v-8.2M1742.4,1771.0v8.2M1109.4,2307.8h7M1822.2,2307.8h-7M1109.4,2258.9h14M1822.2,2258.9h-14M1109.4,2210.1h7M1822.2,2210.1h-7M1109.4,2161.3h14M1822.2,2161.3h-14M1109.4,2112.5h7M1822.2,2112.5h-7M1109.4,2063.6h14M1822.2,2063.6h-14M1109.4,2014.8h7M1822.2,2014.8h-7M1109.4,1966.0h14M1822.2,1966.0h-14M1109.4,1917.2h7M1822.2,1917.2h-7M1109.4,1868.3h14M1822.2,1868.3h-14M1109.4,1819.5h7M1822.2,1819.5h-7" stroke="#000" stroke-width="1.6" fill="none"/>
<rect x="1109.4" y="1771.0" width="712.8" height="585.5999999999999" fill="none" stroke="#000" stroke-width="2"/>
<text transform="translate(1037.84,2366.89) scale(0.8161,1)" font-family='"Liberation Sans", Arial, sans-serif' font-size="50.88" fill="#000">0.0</text>
<text transform="translate(1833.84,2366.89) scale(0.8161,1)" font-family='"Liberation Sans", Arial, sans-serif' font-size="50.88" fill="#000">0.0</text>
<text transform="translate(1037.84,2278.64) scale(0.8176,1)" font-family='"Liberation Sans", Arial, sans-serif' font-size="50.88" fill="#000">0.5</text>
<text transform="translate(1833.84,2278.64) scale(0.8176,1)" font-family='"Liberation Sans", Arial, sans-serif' font-size="50.88" fill="#000">0.5</text>
<text transform="translate(1036.30,2180.99) scale(0.8384,1)" font-family='"Liberation Sans", Arial, sans-serif' font-size="50.88" fill="#000">1.0</text>
<text transform="translate(1832.30,2180.99) scale(0.8384,1)" font-family='"Liberation Sans", Arial, sans-serif' font-size="50.88" fill="#000">1.0</text>
<text transform="translate(1036.29,2083.33) scale(0.8282,1)" font-family='"Liberation Sans", Arial, sans-serif' font-size="51.61" fill="#000">1.5</text>
<text transform="translate(1832.29,2083.33) scale(0.8282,1)" font-family='"Liberation Sans", Arial, sans-serif' font-size="51.61" fill="#000">1.5</text>
<text transform="translate(1037.41,1985.69) scale(0.8223,1)" font-family='"Liberation Sans", Arial, sans-serif' font-size="50.88" fill="#000">2.0</text>
<text transform="translate(1833.41,1985.69) scale(0.8223,1)" font-family='"Liberation Sans", Arial, sans-serif' font-size="50.88" fill="#000">2.0</text>
<text transform="translate(1037.40,1888.04) scale(0.8239,1)" font-family='"Liberation Sans", Arial, sans-serif' font-size="50.88" fill="#000">2.5</text>
<text transform="translate(1833.40,1888.04) scale(0.8239,1)" font-family='"Liberation Sans", Arial, sans-serif' font-size="50.88" fill="#000">2.5</text>
<text transform="translate(1037.95,1791.79) scale(0.8145,1)" font-family='"Liberation Sans", Arial, sans-serif' font-size="50.88" fill="#000">3.0</text>
<text transform="translate(1833.95,1791.79) scale(0.8145,1)" font-family='"Liberation Sans", Arial, sans-serif' font-size="50.88" fill="#000">3.0</text>
<text transform="translate(1155.20,2412.29) scale(0.7972,1)" font-family='"Liberation Sans", Arial, sans-serif' font-size="50.88" fill="#000">300</text>
<text transform="translate(1314.06,2412.29) scale(0.7898,1)" font-family='"Liberation Sans", Arial, sans-serif' font-size="50.88" fill="#000">400</text>
<text transform="translate(1471.57,2412.29) scale(0.7985,1)" font-family='"Liberation Sans", Arial, sans-serif' font-size="50.88" fill="#000">500</text>
<text transform="translate(1629.40,2412.29) scale(0.8035,1)" font-family='"Liberation Sans", Arial, sans-serif' font-size="50.88" fill="#000">600</text>
<text transform="translate(1787.64,2412.29) scale(0.8035,1)" font-family='"Liberation Sans", Arial, sans-serif' font-size="50.88" fill="#000">700</text>
<text transform="translate(1326.09,2469.85) scale(0.8379,1)" font-family='"Liberation Sans", Arial, sans-serif' font-size="53.74" fill="#000">Temperature</text>
<text transform="translate(1590.94,2471.34) scale(0.8742,1)" font-family='"Liberation Sans", Arial, sans-serif' font-size="54.26" fill="#000">(K)</text>
<text transform="translate(958.62,1777.04) scale(0.9644,1)" font-family='"Liberation Sans", Arial, sans-serif' font-size="67.77" fill="#231815">(j)</text>
<g transform="translate(1005,2275.9) rotate(-90)"><text transform="translate(-4.12,0.20) scale(1.0246,1)" font-family='"Liberation Sans", Arial, sans-serif' font-size="48.69" fill="#000">Magnetization</text><text transform="translate(321.46,0.43) scale(0.8593,1)" font-family='"Liberation Sans", Arial, sans-serif' font-size="50.94" fill="#000">(</text><text transform="translate(337.29,0.46) scale(0.9987,1)" font-family='"Liberation Sans", Arial, sans-serif' font-size="49.03" fill="#000">μ</text><text transform="translate(365.77,11.90) scale(1.1142,1)" font-family='"Liberation Sans", Arial, sans-serif' font-size="31.85" fill="#000">B</text><text transform="translate(392.17,0.43) scale(0.8593,1)" font-family='"Liberation Sans", Arial, sans-serif' font-size="50.94" fill="#000">)</text></g>
<g transform="translate(1946,2310.9) rotate(-90)"><text transform="translate(-4.32,-0.28) scale(1.1001,1)" font-family='"Liberation Sans", Arial, sans-serif' font-size="47.61" fill="#000">Heat Capacity</text><text transform="translate(339.90,0.68) scale(0.9631,1)" font-family='"Liberation Sans", Arial, sans-serif' font-size="49.76" fill="#000">(</text><text transform="translate(358.87,0.20) scale(0.9910,1)" font-family='"Liberation Sans", Arial, sans-serif' font-size="50.18" fill="#000">10</text><text transform="translate(413.43,-13.20) scale(0.5361,1)" font-family='"Liberation Sans", Arial, sans-serif' font-size="40.00" fill="#000">−</text><text transform="translate(425.70,-17.00) scale(1.0670,1)" font-family='"Liberation Sans", Arial, sans-serif' font-size="37.67" fill="#000">4</text><text transform="translate(450.54,0.68) scale(0.9631,1)" font-family='"Liberation Sans", Arial, sans-serif' font-size="49.76" fill="#000">)</text></g>
</svg>
</body></html>
